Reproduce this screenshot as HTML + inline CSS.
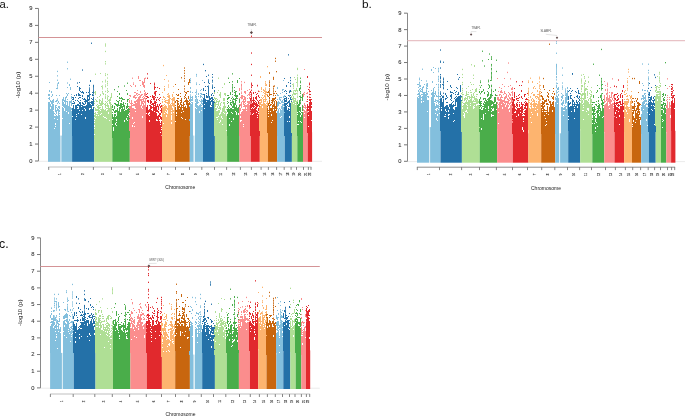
<!DOCTYPE html>
<html><head><meta charset="utf-8"><style>
html,body{margin:0;padding:0;background:#fff;width:685px;height:416px;overflow:hidden}
svg{display:block}
text{font-family:"Liberation Sans",sans-serif}
.tk{font-size:5.8px;fill:#333;stroke:#333;stroke-width:0.08px;text-anchor:end}
.cl{font-size:5.6px;fill:#3a3a3a;stroke:#3a3a3a;stroke-width:0.25px;text-anchor:middle}
.ax{font-size:5px;fill:#1a1a1a}
.ay{font-size:6.2px;fill:#1a1a1a}
.pl{font-size:11.3px;fill:#111}
.an{font-size:2.9px;fill:#555}
</style></head><body>
<svg width="685" height="416" viewBox="0 0 685 416">
<rect width="685" height="416" fill="#fff"/>
<line x1="38.5" y1="161.3" x2="322.0" y2="161.3" stroke="#e6e6e6" stroke-width="0.8"/>
<rect x="60.4" y="135.6" width="1.0" height="26.2" fill="#e2f0f7"/>
<rect x="48.0" y="135.6" width="12.4" height="26.2" fill="#83bfdd"/>
<rect x="61.4" y="135.6" width="10.7" height="26.2" fill="#83bfdd"/>
<rect x="72.1" y="135.6" width="22.2" height="26.2" fill="#2471a8"/>
<rect x="94.3" y="138.1" width="18.0" height="23.7" fill="#afdf95"/>
<rect x="112.3" y="137.3" width="17.5" height="24.5" fill="#4aad4a"/>
<rect x="129.8" y="130.5" width="16.2" height="31.3" fill="#fb8d8d"/>
<rect x="146.0" y="135.6" width="16.0" height="26.2" fill="#e1292d"/>
<rect x="162.0" y="133.9" width="13.0" height="27.9" fill="#fdb46f"/>
<rect x="175.0" y="135.6" width="14.8" height="26.2" fill="#c8660f"/>
<rect x="193.5" y="135.6" width="1.5" height="26.2" fill="#e2f0f7"/>
<rect x="189.8" y="135.6" width="3.7" height="26.2" fill="#83bfdd"/>
<rect x="195.0" y="135.6" width="8.0" height="26.2" fill="#83bfdd"/>
<rect x="203.0" y="130.5" width="11.9" height="31.3" fill="#2471a8"/>
<rect x="214.9" y="135.6" width="12.2" height="26.2" fill="#afdf95"/>
<rect x="227.1" y="135.6" width="12.4" height="26.2" fill="#4aad4a"/>
<rect x="239.5" y="135.6" width="11.3" height="26.2" fill="#fb8d8d"/>
<rect x="250.8" y="135.6" width="9.0" height="26.2" fill="#e1292d"/>
<rect x="259.8" y="130.5" width="8.1" height="31.3" fill="#fdb46f"/>
<rect x="267.9" y="132.2" width="9.2" height="29.6" fill="#c8660f"/>
<rect x="277.1" y="135.6" width="7.7" height="26.2" fill="#83bfdd"/>
<rect x="284.8" y="135.6" width="7.1" height="26.2" fill="#2471a8"/>
<rect x="291.9" y="132.2" width="5.4" height="29.6" fill="#afdf95"/>
<rect x="297.3" y="135.6" width="5.7" height="26.2" fill="#4aad4a"/>
<rect x="303.0" y="135.6" width="4.7" height="26.2" fill="#fb8d8d"/>
<rect x="307.7" y="132.2" width="4.4" height="29.6" fill="#e1292d"/>
<g transform="scale(0.1)" stroke-width="10">
<path stroke="#83bfdd" d="M485 940v20M485 980v10M485 1020v340M495 820v10M495 900v20M495 940v20M495 970v30M495 1020v340M505 1000v20M505 1040v30M505 1090v270M515 910v20M515 960v10M515 1010v30M515 1060v300M525 940v20M525 1000v360M535 990v40M535 1040v60M535 1110v250M545 1130v10M545 1160v20M545 1190v90M545 1290v70M555 1010v10M555 1050v70M555 1140v10M555 1160v70M555 1250v10M555 1270v90M565 880v10M565 950v10M565 1000v20M565 1050v10M565 1070v10M565 1100v40M565 1150v210M575 708v13M575 752v13M575 796v13M575 834v13M575 848v13M575 864v13M575 878v13M575 984v13M575 998v13M575 1028v13M575 1080v30M575 1160v30M575 1200v160M585 820v20M585 1010v20M585 1060v20M585 1090v270M595 950v10M595 1030v10M595 1060v30M595 1100v20M595 1130v10M595 1150v210M625 990v70M625 1070v110M625 1190v170M635 970v40M635 1020v50M635 1080v280M645 1000v20M645 1040v40M645 1110v250M655 970v390M665 930v10M665 960v20M665 1010v10M665 1050v60M665 1120v240M675 616v13M675 681v13M675 824v13M675 870v10M675 940v20M675 990v10M675 1010v350M685 930v10M685 1060v60M685 1140v220M695 840v20M695 1010v220M695 1240v120M705 786v13M705 870v30M705 1010v20M705 1070v290M715 940v10M715 960v30M715 1000v60M715 1080v20M715 1110v250M1895 990v10M1895 1020v20M1895 1060v20M1895 1090v50M1895 1150v210M1905 782v13M1905 800v13M1905 818v13M1905 870v20M1905 872v13M1905 908v13M1905 910v20M1905 944v13M1905 960v60M1905 998v13M1905 1030v330M1915 970v10M1915 990v20M1915 1020v10M1915 1040v320M1925 920v10M1925 960v50M1925 1020v340M1955 920v10M1955 950v30M1955 990v30M1955 1030v40M1955 1080v280M1965 739v13M1965 754v13M1965 824v13M1965 838v13M1965 894v13M1965 908v13M1965 922v13M1965 936v13M1965 960v10M1965 964v13M1965 978v13M1965 992v13M1965 1006v13M1965 1020v13M1965 1020v60M1965 1090v270M1975 990v50M1975 1050v310M1985 930v20M1985 960v10M1985 1020v10M1985 1060v300M1995 840v10M1995 1000v10M1995 1050v60M1995 1130v230M2005 900v10M2005 930v10M2005 950v30M2005 1010v10M2005 1040v320M2015 890v10M2015 930v20M2015 960v10M2015 990v50M2015 1050v10M2015 1070v30M2015 1110v250M2025 800v10M2025 940v10M2025 970v10M2025 1000v20M2025 1030v20M2025 1070v290M2775 870v20M2775 940v20M2775 990v10M2775 1020v50M2775 1080v10M2775 1110v250M2785 950v10M2785 1010v50M2785 1090v270M2795 970v30M2795 1020v20M2795 1080v10M2795 1130v230M2805 930v10M2805 970v10M2805 990v20M2805 1030v10M2805 1090v80M2805 1180v180M2815 970v10M2815 1010v20M2815 1060v30M2815 1100v60M2815 1170v190M2825 890v20M2825 920v10M2825 1000v30M2825 1040v320M2835 800v10M2835 890v10M2835 960v20M2835 990v10M2835 1020v10M2835 1040v20M2835 1070v290M2845 950v20M2845 990v40M2845 1040v320"/>
<path stroke="#2471a8" d="M725 970v10M725 990v10M725 1030v10M725 1080v80M725 1170v190M735 970v30M735 1010v10M735 1030v10M735 1050v310M745 950v10M745 1020v20M745 1090v270M755 970v10M755 1000v10M755 1050v140M755 1200v160M765 940v20M765 1050v90M765 1150v10M765 1170v190M775 824v13M775 860v10M775 1000v10M775 1040v20M775 1070v10M775 1090v270M785 930v30M785 980v10M785 1010v10M785 1040v20M785 1090v40M785 1140v220M795 820v10M795 870v40M795 940v20M795 970v10M795 1020v20M795 1050v50M795 1110v250M805 880v10M805 910v10M805 950v10M805 970v10M805 1000v10M805 1020v340M815 920v10M815 1050v10M815 1070v70M815 1150v210M825 694v13M825 910v20M825 950v20M825 980v10M825 1020v20M825 1050v50M825 1110v250M835 920v20M835 990v10M835 1030v20M835 1060v300M845 980v20M845 1010v10M845 1040v10M845 1060v20M845 1090v270M855 990v50M855 1060v30M855 1110v60M855 1190v170M865 920v10M865 1000v20M865 1050v310M875 950v410M885 920v10M885 950v20M885 990v20M885 1020v340M895 848v13M895 874v13M895 886v13M895 899v13M895 910v10M895 912v13M895 925v13M895 938v13M895 951v13M895 964v13M895 970v10M895 977v13M895 990v13M895 1016v13M895 1030v50M895 1100v260M905 800v20M905 940v10M905 1020v10M905 1040v40M905 1090v270M915 426v13M915 980v10M915 1010v30M915 1050v310M925 920v10M925 940v20M925 990v10M925 1010v50M925 1090v270M935 848v13M935 860v13M935 872v13M935 884v13M935 896v13M935 908v13M935 920v13M935 932v13M935 950v10M935 968v13M935 970v90M935 992v13M935 1016v13M935 1070v290M2035 638v13M2035 880v30M2035 940v10M2035 980v330M2045 820v10M2045 940v100M2045 1050v30M2045 1090v220M2055 700v13M2055 860v10M2055 900v10M2055 990v320M2065 760v10M2065 930v10M2065 950v30M2065 1000v10M2065 1020v290M2075 860v10M2075 960v20M2075 1000v310M2085 746v13M2085 794v13M2085 806v13M2085 819v13M2085 855v13M2085 867v13M2085 879v13M2085 891v13M2085 900v60M2085 915v13M2085 927v13M2085 963v13M2085 999v13M2085 1000v310M2095 830v10M2095 960v350M2105 980v20M2105 1010v40M2105 1070v240M2115 940v20M2115 970v20M2115 1000v20M2115 1050v10M2115 1070v240M2125 740v10M2125 766v13M2125 797v13M2125 813v13M2125 845v13M2125 861v13M2125 870v10M2125 877v13M2125 930v10M2125 970v50M2125 973v13M2125 1005v13M2125 1021v13M2125 1030v280M2135 950v10M2135 990v10M2135 1010v300M2145 870v10M2145 900v20M2145 970v10M2145 1000v30M2145 1040v20M2145 1070v80M2145 1160v150M2845 780v10M2845 910v10M2845 980v40M2845 1030v30M2845 1070v50M2845 1130v230M2855 900v10M2855 960v10M2855 980v10M2855 1000v20M2855 1030v330M2865 850v20M2865 910v10M2865 930v10M2865 970v50M2865 1030v20M2865 1060v300M2875 1020v20M2875 1050v10M2875 1100v110M2875 1220v140M2885 542v13M2885 820v10M2885 950v10M2885 980v10M2885 1010v20M2885 1060v10M2885 1080v280M2895 906v13M2895 918v13M2895 954v13M2895 1000v20M2895 1014v13M2895 1026v13M2895 1030v40M2895 1090v10M2895 1110v50M2895 1180v30M2895 1220v140M2905 771v13M2905 799v13M2905 827v13M2905 855v13M2905 900v20M2905 950v10M2905 970v30M2905 1030v330M2915 970v10M2915 990v10M2915 1010v20M2915 1040v80M2915 1140v220"/>
<path stroke="#afdf95" d="M945 920v10M945 1010v10M945 1030v10M945 1070v10M945 1130v10M945 1150v20M945 1180v20M945 1210v10M945 1230v20M945 1270v10M945 1290v50M945 1350v40M955 736v13M955 910v40M955 990v10M955 1080v30M955 1120v60M955 1190v200M965 1000v20M965 1050v10M965 1090v20M965 1140v10M965 1160v230M975 970v10M975 1010v10M975 1040v10M975 1060v20M975 1090v20M975 1120v10M975 1140v250M985 1050v100M985 1160v230M995 960v10M995 990v50M995 1050v10M995 1070v20M995 1100v290M1005 730v10M1005 940v20M1005 1000v10M1005 1030v30M1005 1070v10M1005 1090v10M1005 1110v30M1005 1150v240M1015 860v10M1015 1010v50M1015 1090v40M1015 1140v250M1025 811v13M1025 854v13M1025 868v13M1025 882v13M1025 910v13M1025 924v13M1025 980v13M1025 990v60M1025 994v13M1025 1022v13M1025 1060v330M1035 930v20M1035 1030v10M1035 1090v70M1035 1170v220M1045 1040v10M1045 1100v70M1045 1180v210M1055 434v13M1055 444v13M1055 454v13M1055 508v13M1055 610v13M1055 632v13M1055 732v13M1055 748v13M1055 796v13M1055 812v13M1055 844v13M1055 860v13M1055 908v13M1055 940v13M1055 956v13M1055 970v20M1055 972v13M1055 1010v10M1055 1030v50M1055 1090v80M1055 1180v210M1065 1020v10M1065 1050v10M1065 1080v10M1065 1110v70M1065 1190v200M1075 739v13M1075 774v13M1075 809v13M1075 827v13M1075 845v13M1075 881v13M1075 899v13M1075 917v13M1075 953v13M1075 971v13M1075 980v10M1075 989v13M1075 1010v10M1075 1030v40M1075 1080v10M1075 1100v290M1085 910v10M1085 960v10M1085 1000v10M1085 1050v70M1085 1140v250M1095 990v50M1095 1080v120M1095 1210v180M1105 970v40M1105 1020v370M1115 930v50M1115 1040v10M1115 1060v330M2145 920v20M2145 970v20M2145 1000v20M2145 1030v330M2155 980v20M2155 1020v50M2155 1080v280M2165 980v10M2165 1000v30M2165 1040v10M2165 1080v20M2165 1110v60M2165 1180v180M2175 920v10M2175 990v10M2175 1010v10M2175 1040v10M2175 1060v20M2175 1110v60M2175 1180v10M2175 1200v160M2185 776v13M2185 900v10M2185 1010v50M2185 1080v10M2185 1100v60M2185 1170v190M2195 940v20M2195 1000v20M2195 1060v30M2195 1100v30M2195 1150v70M2195 1230v130M2205 920v60M2205 1030v30M2205 1070v30M2205 1140v60M2205 1220v140M2215 1020v10M2215 1120v40M2215 1180v180M2225 870v10M2225 1080v100M2225 1190v50M2225 1250v110M2235 980v30M2235 1020v20M2235 1060v60M2235 1130v230M2245 830v20M2245 930v20M2245 980v30M2245 1020v110M2245 1140v220M2255 930v30M2255 1060v20M2255 1110v250M2265 1090v10M2265 1120v10M2265 1160v140M2265 1310v50M2915 910v10M2915 960v20M2915 1000v10M2915 1020v310M2925 840v10M2925 940v20M2925 980v20M2925 1020v310M2935 834v13M2935 848v13M2935 860v10M2935 876v13M2935 904v13M2935 918v13M2935 930v10M2935 932v13M2935 960v13M2935 960v70M2935 974v13M2935 988v13M2935 1002v13M2935 1040v290M2945 770v10M2945 900v10M2945 930v20M2945 980v10M2945 1000v330M2955 790v10M2955 900v20M2955 930v20M2955 980v40M2955 1030v10M2955 1050v280M2965 820v10M2965 880v30M2965 930v10M2965 1010v320M2975 678v13M2975 688v13M2975 746v13M2975 768v13M2975 779v13M2975 790v13M2975 801v13M2975 812v13M2975 823v13M2975 834v13M2975 845v13M2975 856v13M2975 900v13M2975 911v13M2975 933v13M2975 955v13M2975 966v13M2975 999v13M2975 1010v13M2975 1021v13M2975 1032v13"/>
<path stroke="#4aad4a" d="M1125 1050v30M1125 1090v10M1125 1120v10M1125 1140v50M1125 1200v40M1125 1250v130M1135 1090v20M1135 1170v100M1135 1310v70M1145 890v13M1145 1030v10M1145 1060v30M1145 1110v20M1145 1140v240M1155 1030v20M1155 1100v30M1155 1140v20M1155 1170v60M1155 1250v130M1165 1000v10M1165 1040v20M1165 1100v20M1165 1160v30M1165 1210v10M1165 1230v20M1165 1260v120M1175 910v10M1175 960v10M1175 1010v10M1175 1040v30M1175 1080v300M1185 861v13M1185 1010v50M1185 1110v270M1195 930v20M1195 970v20M1195 1000v10M1195 1050v10M1195 1070v310M1205 980v10M1205 1030v60M1205 1120v260M1215 970v20M1215 1000v20M1215 1030v50M1215 1090v290M1225 980v20M1225 1040v10M1225 1060v320M1235 990v10M1235 1020v50M1235 1090v290M1245 854v13M1245 990v10M1245 1050v50M1245 1110v90M1245 1220v160M1255 1030v10M1255 1100v280M1265 900v10M1265 1060v30M1265 1100v80M1265 1200v180M1275 826v13M1275 930v20M1275 990v30M1275 1030v50M1275 1090v70M1275 1170v30M1275 1210v170M1285 990v10M1285 1060v10M1285 1080v60M1285 1150v230M1295 1080v50M1295 1140v10M1295 1160v220M2275 950v10M2275 980v20M2275 1010v10M2275 1030v10M2275 1070v10M2275 1090v30M2275 1140v220M2285 776v13M2285 950v10M2285 970v20M2285 1020v10M2285 1050v20M2285 1080v280M2295 820v10M2295 970v10M2295 1070v10M2295 1090v90M2295 1190v50M2295 1260v100M2305 920v30M2305 1000v10M2305 1020v30M2305 1080v280M2315 980v10M2315 1020v10M2315 1040v20M2315 1080v40M2315 1130v80M2315 1220v140M2325 732v13M2325 811v13M2325 840v13M2325 854v13M2325 868v13M2325 882v13M2325 896v13M2325 910v13M2325 940v10M2325 966v13M2325 994v13M2325 1008v13M2325 1010v10M2325 1022v13M2325 1060v20M2325 1090v40M2325 1140v220M2335 980v20M2335 1010v70M2335 1090v90M2335 1200v160M2345 870v10M2345 900v10M2345 920v10M2345 950v10M2345 990v10M2345 1030v330M2355 910v60M2355 980v70M2355 1070v40M2355 1120v240M2365 910v10M2365 950v40M2365 1000v10M2365 1050v70M2365 1150v210M2375 800v30M2375 950v20M2375 980v10M2375 1080v280M2385 1070v60M2385 1150v210M2395 780v10M2395 930v20M2395 990v40M2395 1040v70M2395 1120v90M2395 1220v140M2975 1020v20M2975 1050v70M2975 1130v10M2975 1150v90M2975 1250v110M2985 1040v170M2985 1220v20M2985 1250v110M2995 880v30M2995 960v10M2995 1000v60M2995 1070v40M2995 1120v240M3005 776v13M3005 806v13M3005 820v13M3005 850v13M3005 866v13M3005 880v13M3005 910v13M3005 926v13M3005 930v10M3005 956v13M3005 970v13M3005 986v13M3005 1000v13M3005 1016v13M3005 1030v10M3005 1030v13M3005 1070v50M3005 1130v20M3005 1170v40M3005 1220v140M3015 970v10M3015 1120v10M3015 1150v70M3015 1230v130M3025 940v70M3025 1050v60M3025 1120v240"/>
<path stroke="#fb8d8d" d="M1295 950v10M1295 980v10M1295 1000v30M1295 1060v30M1295 1100v10M1295 1120v10M1295 1140v10M1295 1160v20M1295 1190v120M1305 850v10M1305 950v20M1305 1030v10M1305 1060v250M1315 860v10M1315 1000v310M1325 776v13M1325 1030v10M1325 1050v10M1325 1080v90M1325 1190v60M1325 1270v40M1335 824v13M1335 840v10M1335 960v20M1335 1040v20M1335 1080v150M1335 1240v70M1345 920v10M1345 950v30M1345 1010v20M1345 1040v20M1345 1090v130M1345 1230v30M1345 1270v40M1355 850v20M1355 920v10M1355 950v10M1355 970v20M1355 1010v70M1355 1090v20M1355 1120v190M1365 930v20M1365 970v10M1365 1000v20M1365 1030v280M1375 900v10M1375 930v10M1375 950v10M1375 990v320M1385 760v30M1385 940v10M1385 970v340M1395 800v10M1395 940v10M1395 960v350M1405 800v10M1405 850v10M1405 910v20M1405 950v30M1405 990v20M1405 1050v260M1415 940v20M1415 990v70M1415 1080v230M1425 810v40M1425 940v10M1425 970v10M1425 990v10M1425 1010v30M1425 1060v20M1425 1090v70M1425 1180v130M1435 820v50M1435 960v10M1435 980v40M1435 1030v280M1445 780v50M1445 850v30M1445 900v20M1445 930v30M1445 970v20M1445 1010v20M1445 1050v260M1455 776v13M1455 920v50M1455 980v330M2395 880v30M2395 980v10M2395 1040v10M2395 1070v290M2405 970v10M2405 1040v20M2405 1080v30M2405 1140v20M2405 1180v20M2405 1220v140M2415 811v13M2415 837v13M2415 850v13M2415 863v13M2415 876v13M2415 889v13M2415 915v13M2415 928v13M2415 950v20M2415 967v13M2415 980v13M2415 1019v13M2415 1030v50M2415 1120v80M2415 1210v150M2425 950v40M2425 1010v10M2425 1090v10M2425 1110v250M2435 960v10M2435 990v60M2435 1060v10M2435 1090v150M2435 1250v10M2435 1270v90M2445 818v13M2445 910v20M2445 960v40M2445 1010v20M2445 1040v30M2445 1090v270M2455 910v30M2455 970v50M2455 1030v10M2455 1050v310M2465 1050v20M2465 1090v10M2465 1110v250M2475 900v10M2475 950v10M2475 980v10M2475 1010v20M2475 1040v320M2485 940v10M2485 1010v350M2495 890v10M2495 920v40M2495 970v20M2495 1010v30M2495 1050v310M2505 940v10M2505 960v10M2505 990v10M2505 1010v180M2505 1200v160M3035 930v40M3035 1060v20M3035 1090v20M3035 1120v240M3045 690v10M3045 919v13M3045 940v10M3045 1030v30M3045 1070v10M3045 1100v30M3045 1140v30M3045 1180v180M3055 1050v40M3055 1110v250M3065 930v10M3065 1010v10M3065 1070v10M3065 1090v270M3075 860v10M3075 920v20M3075 960v20M3075 990v10M3075 1010v10M3075 1050v310"/>
<path stroke="#e1292d" d="M1465 940v10M1465 960v10M1465 980v10M1465 1070v60M1465 1140v220M1475 732v13M1475 776v13M1475 930v10M1475 960v20M1475 1000v20M1475 1050v310M1485 970v10M1485 1000v30M1485 1100v30M1485 1150v210M1495 1050v10M1495 1090v30M1495 1140v10M1495 1160v40M1495 1220v140M1505 830v10M1505 960v10M1505 1000v40M1505 1050v310M1515 990v10M1515 1010v20M1515 1040v10M1515 1060v30M1515 1100v260M1525 950v30M1525 1030v20M1525 1070v10M1525 1110v250M1535 960v40M1535 1030v330M1545 826v13M1545 840v13M1545 856v13M1545 870v13M1545 880v10M1545 886v13M1545 916v13M1545 930v13M1545 960v13M1545 976v13M1545 980v20M1545 1006v13M1545 1020v20M1545 1050v10M1545 1070v40M1545 1120v240M1555 870v10M1555 910v50M1555 970v10M1555 1010v350M1565 910v10M1565 990v20M1565 1020v10M1565 1060v60M1565 1130v60M1565 1210v150M1575 870v10M1575 970v10M1575 1040v30M1575 1100v20M1575 1160v40M1575 1210v150M1585 990v10M1585 1060v40M1585 1110v20M1585 1150v210M1595 880v10M1595 940v10M1595 980v10M1595 1000v10M1595 1040v20M1595 1130v40M1595 1190v10M1595 1210v150M1605 970v10M1605 1030v10M1605 1060v20M1605 1100v10M1605 1130v20M1605 1160v30M1605 1230v10M1605 1250v70M1605 1330v30M1615 1050v20M1615 1080v50M1615 1170v30M1615 1210v60M1615 1280v10M1615 1300v50M2505 910v20M2505 980v30M2505 1040v60M2505 1110v10M2505 1150v210M2515 356v13M2515 524v13M2515 638v13M2515 746v13M2515 826v13M2515 840v13M2515 854v13M2515 868v13M2515 896v13M2515 924v13M2515 938v13M2515 940v10M2515 952v13M2515 966v13M2515 980v13M2515 980v10M2515 994v13M2515 1008v13M2515 1022v13M2515 1040v40M2515 1090v270M2525 850v10M2525 1000v10M2525 1030v40M2525 1080v60M2525 1150v210M2535 920v20M2535 970v110M2535 1090v40M2535 1140v220M2545 1000v10M2545 1020v30M2545 1060v10M2545 1080v280M2555 920v10M2555 970v20M2555 1010v10M2555 1030v30M2555 1070v290M2565 940v10M2565 960v40M2565 1020v70M2565 1100v20M2565 1130v230M2575 848v13M2575 851v13M2575 930v10M2575 1000v10M2575 1040v30M2575 1110v40M2575 1160v10M2575 1180v180M2585 906v13M2585 950v20M2585 1010v30M2585 1050v10M2585 1080v30M2585 1120v10M2585 1140v220M2595 970v10M2595 1000v10M2595 1050v60M2595 1120v240M3075 760v20M3075 960v10M3075 990v10M3075 1010v10M3075 1040v70M3075 1130v200M3085 890v10M3085 1060v20M3085 1090v20M3085 1120v30M3085 1160v100M3085 1270v60M3095 826v13M3095 840v13M3095 868v13M3095 870v10M3095 896v13M3095 910v13M3095 938v13M3095 966v13M3095 990v20M3095 994v13M3095 1020v310M3095 1022v13M3105 910v10M3105 940v10M3105 970v10M3105 990v340M3115 990v10M3115 1020v30M3115 1060v20M3115 1110v90M3115 1210v120"/>
<path stroke="#fdb46f" d="M1625 920v10M1625 990v10M1625 1010v20M1625 1050v290M1635 649v13M1635 960v20M1635 1050v10M1635 1070v160M1635 1240v100M1645 790v10M1645 860v10M1645 880v30M1645 970v10M1645 990v10M1645 1010v10M1645 1040v10M1645 1060v70M1645 1140v200M1655 980v10M1655 1000v30M1655 1050v60M1655 1120v220M1665 750v10M1665 1000v10M1665 1020v10M1665 1060v30M1665 1100v20M1665 1130v20M1665 1170v170M1675 940v10M1675 960v10M1675 1000v10M1675 1020v20M1675 1080v20M1675 1140v200M1685 804v13M1685 844v13M1685 864v13M1685 930v10M1685 944v13M1685 960v20M1685 964v13M1685 990v350M1685 1004v13M1685 1024v13M1695 950v90M1695 1050v290M1705 980v10M1705 1040v300M1715 990v10M1715 1030v10M1715 1050v50M1715 1110v10M1715 1140v10M1715 1200v20M1715 1240v100M1725 940v30M1725 980v80M1725 1080v260M1735 860v10M1735 920v10M1735 970v40M1735 1030v40M1735 1100v20M1735 1130v210M1745 970v370M2595 910v10M2595 1020v40M2595 1070v240M2605 760v20M2605 990v20M2605 1020v30M2605 1060v250M2615 870v30M2615 910v10M2615 970v10M2615 990v40M2615 1040v270M2625 950v10M2625 980v10M2625 1040v20M2625 1080v230M2635 890v20M2635 920v10M2635 970v10M2635 990v320M2645 900v20M2645 930v10M2645 950v20M2645 990v10M2645 1010v10M2645 1030v280M2655 811v13M2655 827v13M2655 843v13M2655 850v10M2655 875v13M2655 891v13M2655 907v13M2655 920v20M2655 923v13M2655 939v13M2655 955v13M2655 960v60M2655 971v13M2655 1040v270M2665 840v20M2665 910v20M2665 940v10M2665 990v10M2665 1030v10M2665 1050v260M2675 660v13M2675 920v10M2675 940v10M2675 960v10M2675 1010v50M2675 1070v240"/>
<path stroke="#c8660f" d="M1755 840v10M1755 1010v20M1755 1050v10M1755 1070v140M1755 1220v140M1765 940v10M1765 1000v10M1765 1100v20M1765 1140v10M1765 1160v200M1775 950v10M1775 980v10M1775 1000v360M1785 890v10M1785 940v20M1785 980v10M1785 1010v10M1785 1030v20M1785 1060v300M1795 1050v30M1795 1090v270M1805 930v10M1805 960v10M1805 1000v10M1805 1020v30M1805 1070v290M1815 771v13M1815 980v50M1815 1040v80M1815 1130v40M1815 1180v180M1825 1050v10M1825 1070v10M1825 1100v80M1825 1190v170M1835 1020v90M1835 1120v240M1845 674v13M1845 700v13M1845 726v13M1845 752v13M1845 778v13M1845 804v13M1845 856v13M1845 882v13M1845 908v13M1845 960v13M1845 980v10M1845 1010v10M1845 1040v10M1845 1070v290M1855 920v10M1855 940v20M1855 970v10M1855 1000v20M1855 1060v130M1855 1200v160M1865 920v20M1865 980v70M1865 1080v280M1875 910v10M1875 1000v360M1885 820v30M1885 910v10M1885 960v30M1885 1010v10M1885 1030v330M1895 790v40M1895 1000v10M1895 1020v30M1895 1070v120M1895 1210v150M2675 920v10M2675 950v10M2675 1060v10M2675 1080v250M2685 910v20M2685 960v10M2685 1030v30M2685 1100v10M2685 1120v10M2685 1140v20M2685 1170v160M2695 724v13M2695 724v13M2695 804v13M2695 819v13M2695 835v13M2695 851v13M2695 860v10M2695 883v13M2695 899v13M2695 915v13M2695 931v13M2695 940v20M2695 947v13M2695 970v20M2695 995v13M2695 1000v10M2695 1011v13M2695 1020v20M2695 1027v13M2695 1050v280M2705 940v10M2705 1040v20M2705 1080v30M2705 1120v210M2715 940v10M2715 1000v10M2715 1020v10M2715 1040v10M2715 1080v60M2715 1160v60M2715 1230v100M2725 980v60M2725 1050v150M2725 1210v120M2735 768v13M2735 776v13M2735 786v13M2735 858v13M2735 876v13M2735 894v13M2735 912v13M2735 930v13M2735 948v13M2735 980v30M2735 1002v13M2735 1040v30M2735 1080v10M2735 1110v220M2745 854v13M2745 930v10M2745 980v20M2745 1010v320M2755 578v13M2755 606v13M2755 910v10M2755 950v10M2755 970v20M2755 1000v10M2755 1060v30M2755 1100v230M2765 710v13M2765 930v10M2765 1010v100M2765 1130v200"/>
</g>
<line x1="38.5" y1="8.45" x2="38.5" y2="161.00" stroke="#8a8a8a" stroke-width="1"/>
<line x1="35.0" y1="161.00" x2="38.5" y2="161.00" stroke="#777" stroke-width="1"/>
<line x1="35.0" y1="144.05" x2="38.5" y2="144.05" stroke="#777" stroke-width="1"/>
<line x1="35.0" y1="127.10" x2="38.5" y2="127.10" stroke="#777" stroke-width="1"/>
<line x1="35.0" y1="110.15" x2="38.5" y2="110.15" stroke="#777" stroke-width="1"/>
<line x1="35.0" y1="93.20" x2="38.5" y2="93.20" stroke="#777" stroke-width="1"/>
<line x1="35.0" y1="76.25" x2="38.5" y2="76.25" stroke="#777" stroke-width="1"/>
<line x1="35.0" y1="59.30" x2="38.5" y2="59.30" stroke="#777" stroke-width="1"/>
<line x1="35.0" y1="42.35" x2="38.5" y2="42.35" stroke="#777" stroke-width="1"/>
<line x1="35.0" y1="25.40" x2="38.5" y2="25.40" stroke="#777" stroke-width="1"/>
<line x1="35.0" y1="8.45" x2="38.5" y2="8.45" stroke="#777" stroke-width="1"/>
<line x1="38.5" y1="37.50" x2="322.0" y2="37.50" stroke="#d49396" stroke-width="1.1"/>
<line x1="48.300000000000004" y1="167.0" x2="311.4" y2="167.0" stroke="#d4d4d4" stroke-width="1.5"/>
<line x1="48.7" y1="167.0" x2="48.7" y2="169.9" stroke="#666" stroke-width="0.8"/>
<line x1="71.5" y1="167.0" x2="71.5" y2="169.9" stroke="#666" stroke-width="0.8"/>
<line x1="93.4" y1="167.0" x2="93.4" y2="169.9" stroke="#666" stroke-width="0.8"/>
<line x1="111.5" y1="167.0" x2="111.5" y2="169.9" stroke="#666" stroke-width="0.8"/>
<line x1="129.3" y1="167.0" x2="129.3" y2="169.9" stroke="#666" stroke-width="0.8"/>
<line x1="145.5" y1="167.0" x2="145.5" y2="169.9" stroke="#666" stroke-width="0.8"/>
<line x1="161.5" y1="167.0" x2="161.5" y2="169.9" stroke="#666" stroke-width="0.8"/>
<line x1="175.5" y1="167.0" x2="175.5" y2="169.9" stroke="#666" stroke-width="0.8"/>
<line x1="189.5" y1="167.0" x2="189.5" y2="169.9" stroke="#666" stroke-width="0.8"/>
<line x1="201.8" y1="167.0" x2="201.8" y2="169.9" stroke="#666" stroke-width="0.8"/>
<line x1="214.5" y1="167.0" x2="214.5" y2="169.9" stroke="#666" stroke-width="0.8"/>
<line x1="226.6" y1="167.0" x2="226.6" y2="169.9" stroke="#666" stroke-width="0.8"/>
<line x1="240.4" y1="167.0" x2="240.4" y2="169.9" stroke="#666" stroke-width="0.8"/>
<line x1="251.4" y1="167.0" x2="251.4" y2="169.9" stroke="#666" stroke-width="0.8"/>
<line x1="261.1" y1="167.0" x2="261.1" y2="169.9" stroke="#666" stroke-width="0.8"/>
<line x1="268.4" y1="167.0" x2="268.4" y2="169.9" stroke="#666" stroke-width="0.8"/>
<line x1="276.6" y1="167.0" x2="276.6" y2="169.9" stroke="#666" stroke-width="0.8"/>
<line x1="284.2" y1="167.0" x2="284.2" y2="169.9" stroke="#666" stroke-width="0.8"/>
<line x1="291.1" y1="167.0" x2="291.1" y2="169.9" stroke="#666" stroke-width="0.8"/>
<line x1="296.5" y1="167.0" x2="296.5" y2="169.9" stroke="#666" stroke-width="0.8"/>
<line x1="303.5" y1="167.0" x2="303.5" y2="169.9" stroke="#666" stroke-width="0.8"/>
<line x1="308.4" y1="167.0" x2="308.4" y2="169.9" stroke="#666" stroke-width="0.8"/>
<line x1="311.0" y1="167.0" x2="311.0" y2="169.9" stroke="#666" stroke-width="0.8"/>
<polyline points="251.4,28.9 251.4,31.3" fill="none" stroke="#bbb" stroke-width="0.4"/>
<rect x="250.30" y="31.50" width="2.2" height="2.2" fill="#5e4848" transform="rotate(45 251.4 32.6)"/>
<g style="filter:grayscale(1)"><text x="32.6" y="162.90" class="tk">0</text>
<text x="32.6" y="145.95" class="tk">1</text>
<text x="32.6" y="129.00" class="tk">2</text>
<text x="32.6" y="112.05" class="tk">3</text>
<text x="32.6" y="95.10" class="tk">4</text>
<text x="32.6" y="78.15" class="tk">5</text>
<text x="32.6" y="61.20" class="tk">6</text>
<text x="32.6" y="44.25" class="tk">7</text>
<text x="32.6" y="27.30" class="tk">8</text>
<text x="32.6" y="10.35" class="tk">9</text>
<text transform="translate(61.2,174.3) rotate(-90) scale(0.5)" class="cl">1</text>
<text transform="translate(83.5,174.3) rotate(-90) scale(0.5)" class="cl">2</text>
<text transform="translate(103.5,174.3) rotate(-90) scale(0.5)" class="cl">3</text>
<text transform="translate(121.5,174.3) rotate(-90) scale(0.5)" class="cl">4</text>
<text transform="translate(138.5,174.3) rotate(-90) scale(0.5)" class="cl">5</text>
<text transform="translate(154.6,174.3) rotate(-90) scale(0.5)" class="cl">6</text>
<text transform="translate(169.6,174.3) rotate(-90) scale(0.5)" class="cl">7</text>
<text transform="translate(183.6,174.3) rotate(-90) scale(0.5)" class="cl">8</text>
<text transform="translate(196.8,174.3) rotate(-90) scale(0.5)" class="cl">9</text>
<text transform="translate(209.2,174.3) rotate(-90) scale(0.5)" class="cl">10</text>
<text transform="translate(221.7,174.3) rotate(-90) scale(0.5)" class="cl">11</text>
<text transform="translate(234.6,174.3) rotate(-90) scale(0.5)" class="cl">12</text>
<text transform="translate(247.0,174.3) rotate(-90) scale(0.5)" class="cl">13</text>
<text transform="translate(257.4,174.3) rotate(-90) scale(0.5)" class="cl">14</text>
<text transform="translate(265.9,174.3) rotate(-90) scale(0.5)" class="cl">15</text>
<text transform="translate(273.6,174.3) rotate(-90) scale(0.5)" class="cl">16</text>
<text transform="translate(281.5,174.3) rotate(-90) scale(0.5)" class="cl">17</text>
<text transform="translate(288.8,174.3) rotate(-90) scale(0.5)" class="cl">18</text>
<text transform="translate(294.9,174.3) rotate(-90) scale(0.5)" class="cl">19</text>
<text transform="translate(301.1,174.3) rotate(-90) scale(0.5)" class="cl">20</text>
<text transform="translate(307.1,174.3) rotate(-90) scale(0.5)" class="cl">21</text>
<text transform="translate(310.8,174.3) rotate(-90) scale(0.5)" class="cl">22</text>
<text x="252.1" y="26.1" class="an" text-anchor="middle">TRAF1</text>
<text x="180.3" y="189.20000000000002" class="ax" text-anchor="middle">Chromosome</text>
<text transform="translate(20.0,85.0) rotate(-90)" class="ay" text-anchor="middle">-log10 (p)</text>
<text x="-0.6" y="7.8" class="pl" style="font-size:11.3px">a.</text></g>
<line x1="407.5" y1="161.6" x2="685.0" y2="161.6" stroke="#e6e6e6" stroke-width="0.8"/>
<rect x="429.1" y="127.1" width="1.0" height="35.6" fill="#e2f0f7"/>
<rect x="417.0" y="127.1" width="12.1" height="35.6" fill="#83bfdd"/>
<rect x="430.1" y="127.1" width="10.4" height="35.6" fill="#83bfdd"/>
<rect x="440.5" y="130.8" width="21.4" height="31.9" fill="#2471a8"/>
<rect x="461.9" y="131.7" width="17.8" height="31.0" fill="#afdf95"/>
<rect x="479.7" y="131.7" width="17.4" height="31.0" fill="#4aad4a"/>
<rect x="497.1" y="128.4" width="15.7" height="34.3" fill="#fb8d8d"/>
<rect x="512.8" y="133.3" width="15.6" height="29.4" fill="#e1292d"/>
<rect x="528.4" y="129.2" width="12.8" height="33.5" fill="#fdb46f"/>
<rect x="541.2" y="133.3" width="14.1" height="29.4" fill="#c8660f"/>
<rect x="559.0" y="133.3" width="1.1" height="29.4" fill="#e2f0f7"/>
<rect x="555.3" y="133.3" width="3.7" height="29.4" fill="#83bfdd"/>
<rect x="560.1" y="133.3" width="8.1" height="29.4" fill="#83bfdd"/>
<rect x="568.2" y="130.8" width="12.0" height="31.9" fill="#2471a8"/>
<rect x="580.2" y="128.4" width="12.1" height="34.3" fill="#afdf95"/>
<rect x="592.3" y="133.3" width="12.0" height="29.4" fill="#4aad4a"/>
<rect x="604.3" y="131.7" width="10.2" height="31.0" fill="#fb8d8d"/>
<rect x="614.5" y="131.7" width="9.6" height="31.0" fill="#e1292d"/>
<rect x="624.1" y="131.7" width="7.9" height="31.0" fill="#fdb46f"/>
<rect x="632.0" y="133.3" width="9.2" height="29.4" fill="#c8660f"/>
<rect x="641.2" y="133.3" width="7.7" height="29.4" fill="#83bfdd"/>
<rect x="648.9" y="131.7" width="6.8" height="31.0" fill="#2471a8"/>
<rect x="655.7" y="125.1" width="5.3" height="37.6" fill="#afdf95"/>
<rect x="661.0" y="133.3" width="5.3" height="29.4" fill="#4aad4a"/>
<rect x="666.3" y="131.7" width="4.8" height="31.0" fill="#fb8d8d"/>
<rect x="671.1" y="130.8" width="4.3" height="31.9" fill="#e1292d"/>
<g transform="scale(0.1)" stroke-width="10">
<path stroke="#83bfdd" d="M4175 840v10M4175 940v10M4175 970v310M4185 840v10M4185 870v10M4185 900v20M4185 930v20M4185 960v10M4185 980v300M4195 776v13M4195 790v13M4195 818v13M4195 832v13M4195 846v13M4195 860v10M4195 888v13M4195 916v13M4195 930v13M4195 930v350M4195 944v13M4195 972v13M4195 1000v13M4205 850v20M4205 880v10M4205 900v20M4205 950v330M4215 800v10M4215 890v10M4215 910v10M4215 940v10M4215 970v10M4215 1000v10M4215 1030v250M4225 686v13M4225 870v60M4225 940v10M4225 960v320M4235 860v20M4235 920v90M4235 1020v260M4245 840v10M4245 920v360M4255 920v10M4255 940v340M4265 804v13M4265 835v13M4265 850v10M4265 851v13M4265 867v13M4265 880v10M4265 883v13M4265 899v13M4265 900v60M4265 931v13M4265 963v13M4265 970v310M4265 1011v13M4265 1027v13M4275 830v40M4275 880v10M4275 930v20M4275 960v10M4275 1000v110M4275 1120v160M4285 910v10M4285 960v20M4285 1000v280M4315 690v20M4315 900v10M4315 930v20M4315 970v310M4325 810v20M4325 920v360M4335 670v10M4335 720v10M4335 880v400M4345 870v10M4345 930v10M4345 950v20M4345 1010v10M4345 1030v250M4355 680v10M4355 910v40M4355 990v30M4355 1060v30M4355 1100v30M4355 1140v140M4365 840v10M4365 950v20M4365 1000v10M4365 1020v10M4365 1040v40M4365 1110v70M4365 1200v80M4375 960v10M4375 1000v20M4375 1050v30M4375 1090v50M4375 1160v40M4375 1210v70M4385 678v13M4385 694v13M4385 710v13M4385 758v13M4385 774v13M4385 790v13M4385 806v13M4385 838v13M4385 854v13M4385 870v13M4385 886v13M4385 902v13M4385 918v13M4385 920v20M4385 934v13M4385 950v13M4385 960v10M4385 966v13M4385 982v13M4385 1000v30M4385 1030v13M4385 1050v40M4385 1100v180M4395 960v10M4395 990v10M4395 1010v20M4395 1040v10M4395 1060v10M4395 1080v50M4395 1140v140M4405 980v30M4405 1060v70M4405 1140v140M5555 970v30M5555 1020v320M5565 408v13M5565 426v13M5565 526v13M5565 638v13M5565 649v13M5565 660v13M5565 671v13M5565 682v13M5565 693v13M5565 704v13M5565 715v13M5565 726v13M5565 737v13M5565 759v13M5565 770v13M5565 792v13M5565 825v13M5565 847v13M5565 858v13M5565 869v13M5565 902v13M5565 913v13M5565 924v13M5565 946v13M5565 957v13M5565 960v10M5565 979v13M5565 990v350M5565 1001v13M5565 1012v13M5565 1023v13M5575 830v10M5575 880v20M5575 920v10M5575 960v70M5575 1040v300M5585 870v30M5585 910v10M5585 940v20M5585 980v360M5615 930v10M5615 960v20M5615 990v20M5615 1030v20M5615 1070v270M5625 674v13M5625 746v13M5625 824v13M5625 854v13M5625 868v13M5625 884v13M5625 944v13M5625 958v13M5625 970v20M5625 974v13M5625 1018v13M5625 1020v40M5625 1034v13M5625 1070v270M5635 950v10M5635 1000v40M5635 1080v20M5635 1110v40M5635 1160v180M5645 1050v10M5645 1070v30M5645 1110v230M5655 884v13M5655 896v13M5655 909v13M5655 922v13M5655 935v13M5655 950v10M5655 970v60M5655 974v13M5655 987v13M5655 1000v13M5655 1013v13M5655 1026v13M5655 1060v280M5665 930v100M5665 1060v10M5665 1090v250M5675 870v20M5675 900v100M5675 1020v320M6415 980v20M6415 1050v10M6415 1070v40M6415 1140v200M6425 634v13M6425 830v10M6425 890v20M6425 950v20M6425 980v10M6425 1020v320M6435 850v10M6435 950v50M6435 1010v80M6435 1100v240M6445 900v10M6445 930v20M6445 970v20M6445 1000v40M6445 1050v290M6455 900v10M6455 930v10M6455 950v70M6455 1040v300M6465 1000v20M6465 1030v20M6465 1070v120M6465 1210v130M6475 900v20M6475 1040v10M6475 1070v50M6475 1130v120M6475 1260v80M6485 636v13M6485 698v13M6485 722v13M6485 764v13M6485 778v13M6485 792v13M6485 820v13M6485 834v13M6485 848v13M6485 876v13M6485 918v13M6485 932v13M6485 946v13M6485 960v13M6485 974v13M6485 988v13M6485 990v20M6485 1002v13M6485 1016v13M6485 1020v10M6485 1030v13M6485 1050v290"/>
<path stroke="#2471a8" d="M4405 494v13M4405 606v13M4405 616v13M4405 674v13M4405 740v13M4405 762v13M4405 768v13M4405 780v13M4405 804v13M4405 816v13M4405 841v13M4405 853v13M4405 865v13M4405 913v13M4405 925v13M4405 930v20M4405 937v13M4405 961v13M4405 985v13M4405 990v320M4405 997v13M4405 1009v13M4405 1033v13M4415 950v10M4415 980v90M4415 1080v10M4415 1110v200M4425 840v10M4425 960v20M4425 1020v290M4435 616v13M4435 776v13M4435 790v13M4435 806v13M4435 820v13M4435 836v13M4435 850v13M4435 866v13M4435 880v10M4435 880v13M4435 926v13M4435 956v13M4435 960v20M4435 986v13M4435 990v320M4435 1000v13M4435 1016v13M4445 1070v90M4445 1170v140M4455 930v20M4455 980v20M4455 1060v30M4455 1110v30M4455 1150v10M4455 1170v140M4465 950v20M4465 980v10M4465 1020v10M4465 1050v60M4465 1120v190M4475 810v10M4475 890v10M4475 970v10M4475 1020v10M4475 1050v260M4485 1070v30M4485 1120v20M4485 1160v10M4485 1190v120M4495 1040v30M4495 1090v50M4495 1150v160M4505 850v20M4505 910v20M4505 950v20M4505 990v10M4505 1040v270M4515 870v10M4515 920v10M4515 940v50M4515 1000v10M4515 1030v280M4525 920v10M4525 1020v10M4525 1050v260M4535 930v10M4535 1010v10M4535 1040v30M4535 1090v40M4535 1140v70M4535 1220v90M4545 900v10M4545 980v10M4545 1050v10M4545 1100v100M4545 1210v100M4555 920v10M4555 940v10M4555 970v10M4555 990v70M4555 1070v240M4565 870v10M4565 910v10M4565 960v10M4565 980v40M4565 1070v240M4575 740v10M4575 880v10M4575 940v10M4575 970v340M4585 786v13M4585 920v30M4585 960v350M4595 770v10M4595 960v350M4605 850v70M4605 950v360M4615 960v20M4615 1000v10M4615 1040v20M4615 1070v10M4615 1100v210M5685 910v10M5685 960v40M5685 1010v150M5685 1170v20M5685 1200v110M5695 900v10M5695 1030v20M5695 1070v240M5705 880v10M5705 930v10M5705 950v40M5705 1020v20M5705 1060v250M5715 910v10M5715 950v10M5715 980v10M5715 1060v50M5715 1120v190M5725 730v10M5725 736v13M5725 900v10M5725 990v320M5735 1000v20M5735 1040v10M5735 1060v250M5745 970v10M5745 1020v50M5745 1080v10M5745 1120v60M5745 1190v120M5755 910v10M5755 1040v10M5755 1060v250M5765 920v10M5765 960v10M5765 1000v30M5765 1040v270M5775 880v10M5775 950v30M5775 1020v40M5775 1080v230M5785 900v40M5785 980v10M5785 1010v10M5785 1040v270M5795 930v10M5795 960v20M5795 990v20M5795 1020v290M6485 880v10M6485 940v10M6485 970v10M6485 1010v10M6485 1030v40M6485 1080v240M6495 830v10M6495 920v40M6495 970v10M6495 990v20M6495 1020v120M6495 1150v170M6505 900v10M6505 970v350M6515 870v10M6515 960v40M6515 1020v30M6515 1060v30M6515 1100v220M6525 1000v10M6525 1030v70M6525 1110v210M6535 970v20M6535 1000v50M6535 1060v260M6545 742v13M6545 960v10M6545 990v20M6545 1030v30M6545 1070v10M6545 1090v150M6545 1250v70M6555 768v13M6555 850v10M6555 970v10M6555 1010v20M6555 1050v10M6555 1100v70M6555 1180v140"/>
<path stroke="#afdf95" d="M4615 930v10M4615 970v10M4615 1010v310M4625 688v13M4625 739v13M4625 770v10M4625 819v13M4625 839v13M4625 879v13M4625 899v13M4625 919v13M4625 939v13M4625 959v13M4625 970v40M4625 979v13M4625 999v13M4625 1020v10M4625 1060v10M4625 1090v230M4635 940v10M4635 1030v10M4635 1050v70M4635 1130v20M4635 1160v160M4645 980v30M4645 1030v100M4645 1180v140M4655 950v10M4655 970v30M4655 1020v90M4655 1120v200M4665 880v10M4665 910v50M4665 980v10M4665 1000v40M4665 1050v50M4665 1120v200M4675 940v10M4675 960v40M4675 1020v30M4675 1060v10M4675 1090v30M4675 1130v190M4685 860v10M4685 920v10M4685 940v10M4685 960v10M4685 1000v320M4695 960v30M4695 1000v320M4705 820v10M4705 900v10M4705 920v10M4705 970v10M4705 990v40M4705 1040v10M4705 1060v260M4715 641v13M4715 840v10M4715 920v10M4715 940v380M4725 890v10M4725 960v20M4725 1010v310M4735 746v13M4735 780v10M4735 840v10M4735 930v30M4735 970v10M4735 1000v20M4735 1030v30M4735 1090v230M4745 650v20M4745 920v10M4745 960v40M4745 1010v10M4745 1030v20M4745 1060v10M4745 1080v240M4755 890v30M4755 980v40M4755 1030v290M4765 880v40M4765 940v10M4765 960v10M4765 980v60M4765 1060v260M4775 940v10M4775 990v50M4775 1050v270M4785 1010v20M4785 1050v270M4795 850v10M4795 890v10M4795 1060v260M5805 930v20M5805 980v10M5805 1000v10M5805 1030v260M5815 746v13M5815 785v13M5815 798v13M5815 811v13M5815 824v13M5815 850v13M5815 863v13M5815 880v10M5815 889v13M5815 910v10M5815 941v13M5815 950v10M5815 954v13M5815 967v13M5815 970v20M5815 980v13M5815 993v13M5815 1006v13M5815 1019v13M5815 1030v260M5825 850v20M5825 930v30M5825 980v10M5825 1000v30M5825 1040v60M5825 1110v180M5835 740v10M5835 930v20M5835 980v20M5835 1030v20M5835 1060v10M5835 1080v20M5835 1110v80M5835 1200v90M5845 760v13M5845 776v13M5845 824v13M5845 830v10M5845 840v13M5845 856v13M5845 872v13M5845 888v13M5845 900v20M5845 904v13M5845 920v13M5845 930v60M5845 984v13M5845 1000v13M5845 1010v280M5845 1016v13M5855 800v20M5855 830v10M5855 880v30M5855 930v60M5855 1000v290M5865 880v20M5865 1000v110M5865 1120v170M5875 860v10M5875 890v10M5875 910v50M5875 970v10M5875 1010v70M5875 1100v190M5885 766v13M5885 810v20M5885 990v20M5885 1020v60M5885 1110v30M5885 1150v140M5895 930v10M5895 980v10M5895 1040v250M5905 900v10M5905 940v10M5905 960v330M5915 870v10M5915 910v20M5915 940v30M5915 990v40M5915 1040v250M6555 870v10M6555 900v20M6555 960v300M6565 860v50M6565 920v10M6565 940v320M6575 760v10M6575 860v10M6575 910v20M6575 940v50M6575 1010v250M6585 870v10M6585 910v20M6585 940v10M6585 960v300M6595 718v13M6595 734v13M6595 765v13M6595 781v13M6595 797v13M6595 813v13M6595 850v10M6595 870v10M6595 890v10M6595 909v13M6595 925v13M6595 941v13M6595 960v300M6595 1005v13M6595 1021v13M6605 830v10M6605 850v20M6605 910v350"/>
<path stroke="#4aad4a" d="M4795 910v20M4795 990v50M4795 1050v10M4795 1070v10M4795 1090v180M4795 1280v40M4805 804v13M4805 819v13M4805 867v13M4805 931v13M4805 970v20M4805 979v13M4805 1011v13M4805 1020v50M4805 1027v13M4805 1090v230M4815 850v10M4815 910v20M4815 1010v10M4815 1030v10M4815 1050v10M4815 1070v20M4815 1100v80M4815 1190v90M4815 1300v20M4825 506v13M4825 602v13M4825 910v10M4825 1060v10M4825 1100v220M4835 890v20M4835 980v20M4835 1030v20M4835 1060v10M4835 1080v60M4835 1200v120M4845 654v13M4845 920v20M4845 980v10M4845 1010v20M4845 1040v280M4855 980v30M4855 1020v60M4855 1090v40M4855 1140v180M4865 1000v320M4875 910v10M4875 940v30M4875 990v10M4875 1010v310M4885 590v10M4885 796v13M4885 811v13M4885 841v13M4885 880v10M4885 920v30M4885 931v13M4885 946v13M4885 980v10M4885 991v13M4885 1000v20M4885 1006v13M4885 1021v13M4885 1030v30M4885 1090v10M4885 1110v210M4895 534v13M4895 850v30M4895 970v350M4905 800v10M4905 940v50M4905 1000v320M4915 562v13M4915 574v13M4915 587v13M4915 639v13M4915 652v13M4915 678v13M4915 691v13M4915 717v13M4915 730v13M4915 743v13M4915 756v13M4915 769v13M4915 782v13M4915 795v13M4915 847v13M4915 860v13M4915 886v13M4915 899v13M4915 912v13M4915 925v13M4915 938v13M4915 951v13M4915 964v13M4915 1003v13M4915 1010v20M4915 1016v13M4915 1029v13M4915 1040v10M4915 1060v20M4915 1090v20M4915 1120v20M4915 1170v150M4925 950v10M4925 1010v30M4925 1060v30M4925 1110v40M4925 1160v160M4935 910v10M4935 1020v60M4935 1110v40M4935 1160v160M4945 970v60M4945 1040v280M4955 890v20M4955 940v20M4955 970v50M4955 1040v280M4965 596v13M4965 708v13M4965 950v10M4965 1020v70M4965 1100v220M5925 1020v10M5925 1040v10M5925 1070v40M5925 1130v20M5925 1180v10M5925 1200v30M5925 1240v100M5935 636v13M5935 950v30M5935 1020v10M5935 1070v10M5935 1090v250M5945 1020v10M5945 1060v60M5945 1130v20M5945 1160v70M5945 1240v100M5955 1040v10M5955 1090v10M5955 1130v10M5955 1150v10M5955 1180v10M5955 1220v50M5955 1290v20M5955 1320v20M5965 920v10M5965 1010v10M5965 1040v20M5965 1110v20M5965 1180v40M5965 1230v110M5975 850v10M5975 900v20M5975 1060v10M5975 1080v10M5975 1100v160M5975 1270v70M5985 970v10M5985 1000v20M5985 1030v10M5985 1050v80M5985 1140v200M5995 746v13M5995 880v10M5995 1040v50M5995 1100v10M5995 1130v10M5995 1160v180M6005 950v30M6005 1080v260M6015 488v13M6015 779v13M6015 794v13M6015 808v13M6015 822v13M6015 836v13M6015 850v13M6015 864v13M6015 878v13M6015 892v13M6015 934v13M6015 948v13M6015 962v13M6015 976v13M6015 980v30M6015 1030v20M6015 1032v13M6015 1110v230M6025 840v10M6025 880v10M6025 930v10M6025 1000v170M6025 1180v160M6035 990v10M6035 1020v20M6035 1050v10M6035 1080v80M6035 1170v170M6615 1010v10M6615 1040v20M6615 1070v20M6615 1100v50M6615 1160v180M6625 940v10M6625 960v10M6625 1040v50M6625 1100v90M6625 1200v10M6625 1220v50M6625 1280v60M6635 930v30M6635 980v30M6635 1020v30M6635 1080v20M6635 1130v70M6635 1210v130M6645 970v10M6645 990v20M6645 1030v10M6645 1050v290M6655 620v13M6655 850v10M6655 940v20M6655 1030v30M6655 1080v50M6655 1140v200"/>
<path stroke="#fb8d8d" d="M4975 780v10M4975 950v10M4975 970v30M4975 1020v20M4975 1050v240M4985 910v10M4985 970v40M4985 1040v10M4985 1080v40M4985 1130v100M4985 1240v50M4995 870v10M4995 940v20M4995 990v20M4995 1020v270M5005 910v20M5005 940v10M5005 970v320M5015 880v10M5015 900v30M5015 950v30M5015 990v50M5015 1050v240M5025 840v10M5025 920v10M5025 970v10M5025 1000v70M5025 1090v200M5035 940v10M5035 1000v20M5035 1030v260M5045 780v10M5045 860v10M5045 910v30M5045 970v60M5045 1040v250M5055 930v10M5055 960v30M5055 1010v40M5055 1070v220M5065 940v40M5065 1010v20M5065 1050v240M5075 718v13M5075 980v20M5075 1010v280M5085 624v13M5085 860v10M5085 920v10M5085 950v20M5085 990v50M5085 1050v20M5085 1090v200M5095 930v20M5095 970v20M5095 1000v10M5095 1030v20M5095 1080v20M5095 1120v170M5105 782v13M5105 850v10M5105 940v20M5105 980v20M5105 1020v20M5105 1050v240M5115 880v20M5115 920v10M5115 970v60M5115 1040v250M5125 870v30M5125 910v50M5125 990v300M6045 810v10M6045 950v80M6045 1050v270M6055 850v10M6055 890v20M6055 1010v10M6055 1040v280M6065 930v20M6065 970v40M6065 1030v290M6075 826v13M6075 840v13M6075 856v13M6075 886v13M6075 900v13M6075 916v13M6075 930v13M6075 946v13M6075 960v13M6075 970v10M6075 976v13M6075 990v10M6075 990v13M6075 1006v13M6075 1020v300M6075 1020v13M6085 980v40M6085 1060v260M6095 920v10M6095 950v90M6095 1050v30M6095 1090v230M6105 870v10M6105 970v10M6105 990v330M6115 920v60M6115 1000v20M6115 1040v280M6125 782v13M6125 920v20M6125 980v20M6125 1030v290M6135 950v30M6135 1000v10M6135 1030v20M6135 1060v10M6135 1080v240M6145 850v10M6145 960v60M6145 1030v10M6145 1050v270M6665 1000v10M6665 1050v30M6665 1090v230M6675 782v13M6675 880v10M6675 950v10M6675 970v10M6675 990v10M6675 1010v310M6685 1080v240M6695 860v10M6695 970v10M6695 990v10M6695 1020v300M6705 1050v20M6705 1080v70M6705 1180v140"/>
<path stroke="#e1292d" d="M5125 970v30M5125 1020v40M5125 1080v60M5125 1150v40M5125 1200v10M5125 1230v110M5135 990v350M5145 880v10M5145 920v60M5145 990v20M5145 1040v80M5145 1130v210M5155 1060v10M5155 1090v20M5155 1130v210M5165 811v13M5165 960v10M5165 980v20M5165 1030v30M5165 1070v10M5165 1100v60M5165 1170v170M5175 980v10M5175 1000v10M5175 1020v10M5175 1040v30M5175 1080v260M5185 950v10M5185 980v10M5185 1000v10M5185 1080v60M5185 1160v180M5195 850v10M5195 940v10M5195 970v10M5195 1020v10M5195 1040v30M5195 1080v260M5205 1070v20M5205 1100v20M5205 1130v210M5215 850v10M5215 900v20M5215 960v20M5215 1020v30M5215 1060v280M5225 811v13M5225 980v10M5225 1040v90M5225 1140v10M5225 1160v110M5225 1300v40M5235 1040v10M5235 1090v10M5235 1130v10M5235 1160v20M5235 1200v10M5235 1220v80M5235 1320v20M5245 940v30M5245 1020v10M5245 1050v10M5245 1070v20M5245 1110v10M5245 1130v20M5245 1160v180M5255 940v10M5255 990v10M5255 1010v10M5255 1030v60M5255 1100v240M5265 980v20M5265 1020v40M5265 1080v260M5275 930v10M5275 990v10M5275 1030v310M6145 860v10M6145 940v20M6145 980v10M6145 1020v140M6145 1170v150M6155 940v10M6155 980v20M6155 1030v10M6155 1050v70M6155 1140v180M6165 861v13M6165 940v10M6165 1000v10M6165 1020v30M6165 1070v30M6165 1110v60M6165 1180v140M6175 930v10M6175 960v20M6175 990v20M6175 1020v20M6175 1050v10M6175 1070v250M6185 794v13M6185 950v10M6185 980v20M6185 1020v10M6185 1040v30M6185 1080v30M6185 1120v200M6195 1010v20M6195 1050v10M6195 1090v60M6195 1170v70M6195 1250v70M6205 940v40M6205 1010v40M6205 1060v260M6215 930v10M6215 1040v10M6215 1060v260M6225 900v20M6225 950v30M6225 990v330M6235 850v30M6235 1030v10M6235 1060v40M6235 1120v200M6715 840v10M6715 860v10M6715 880v20M6715 910v10M6715 930v30M6715 970v10M6715 1010v300M6725 840v13M6725 869v13M6725 883v13M6725 911v13M6725 925v13M6725 953v13M6725 967v13M6725 981v13M6725 1000v10M6725 1009v13M6725 1020v290M6725 1023v13M6735 900v10M6735 950v30M6735 1030v280M6745 950v10M6745 980v100M6745 1090v220"/>
<path stroke="#fdb46f" d="M5285 804v13M5285 818v13M5285 878v13M5285 894v13M5285 910v50M5285 970v10M5285 990v310M5285 998v13M5285 1014v13M5295 1000v10M5295 1020v10M5295 1080v220M5305 776v13M5305 960v20M5305 1030v20M5305 1060v10M5305 1090v80M5305 1180v120M5315 930v10M5315 990v20M5315 1020v100M5315 1130v90M5315 1230v70M5325 810v20M5325 920v10M5325 980v10M5325 1010v10M5325 1040v10M5325 1080v60M5325 1150v150M5335 870v20M5335 940v20M5335 990v30M5335 1030v40M5335 1080v220M5345 860v10M5345 940v20M5345 1000v300M5355 880v10M5355 960v20M5355 1030v40M5355 1080v20M5355 1110v190M5365 960v10M5365 980v10M5365 1010v10M5365 1030v20M5365 1060v240M5375 830v10M5375 900v20M5375 940v10M5375 960v20M5375 1040v50M5375 1100v30M5375 1160v140M5385 940v10M5385 970v30M5385 1010v290M5395 766v13M5395 781v13M5395 813v13M5395 845v13M5395 861v13M5395 877v13M5395 909v13M5395 910v50M5395 925v13M5395 957v13M5395 973v13M5395 989v13M5395 990v310M5395 1005v13M5405 850v10M5405 890v10M5405 910v10M5405 930v10M5405 950v20M5405 990v20M5405 1030v270M6245 910v20M6245 940v10M6245 990v10M6245 1010v160M6245 1180v140M6255 900v10M6255 940v10M6255 1010v40M6255 1070v20M6255 1100v220M6265 930v10M6265 960v10M6265 990v10M6265 1010v90M6265 1120v200M6275 780v10M6275 804v13M6275 818v13M6275 848v13M6275 878v13M6275 894v13M6275 950v20M6275 984v13M6275 990v10M6275 1010v40M6275 1014v13M6275 1060v70M6275 1140v180M6285 688v13M6285 714v13M6285 990v40M6285 1070v250M6295 760v10M6295 950v10M6295 1070v10M6295 1090v100M6295 1220v100M6305 960v30M6305 1010v310M6315 910v10M6315 950v30M6315 990v50M6315 1050v270"/>
<path stroke="#c8660f" d="M5415 920v10M5415 950v20M5415 1030v10M5415 1050v20M5415 1080v260M5425 960v40M5425 1010v80M5425 1100v10M5425 1120v220M5435 779v13M5435 850v30M5435 980v20M5435 1020v30M5435 1060v280M5445 890v10M5445 1000v40M5445 1050v20M5445 1090v20M5445 1120v30M5445 1160v180M5455 1000v20M5455 1100v10M5455 1120v60M5455 1190v60M5455 1260v80M5465 990v30M5465 1030v20M5465 1100v10M5465 1120v10M5465 1140v70M5465 1220v20M5465 1250v90M5475 920v10M5475 950v20M5475 1030v20M5475 1060v280M5485 930v20M5485 960v20M5485 990v20M5485 1040v10M5485 1120v20M5485 1150v190M5495 436v13M5495 900v10M5495 1010v20M5495 1070v270M5505 1010v330M5515 960v10M5515 1040v300M5525 930v10M5525 970v20M5525 1020v30M5525 1060v40M5525 1120v220M5535 880v10M5535 910v10M5535 960v40M5535 1010v330M5545 930v20M5545 1070v270M6325 779v13M6325 980v10M6325 1010v20M6325 1060v30M6325 1100v10M6325 1120v120M6325 1250v10M6325 1270v70M6335 980v10M6335 1060v30M6335 1100v40M6335 1160v40M6335 1220v120M6345 779v13M6345 1010v10M6345 1030v80M6345 1180v160M6355 980v10M6355 1060v10M6355 1100v120M6355 1230v110M6365 1000v20M6365 1080v30M6365 1130v60M6365 1200v140M6375 980v20M6375 1020v20M6375 1050v50M6375 1110v230M6385 920v10M6385 1020v110M6385 1140v200M6395 810v30M6395 1030v30M6395 1090v10M6395 1110v40M6395 1170v10M6395 1190v150M6405 1040v10M6405 1170v30M6405 1250v90"/>
</g>
<line x1="407.5" y1="13.16" x2="407.5" y2="161.30" stroke="#8a8a8a" stroke-width="1"/>
<line x1="404.0" y1="161.30" x2="407.5" y2="161.30" stroke="#777" stroke-width="1"/>
<line x1="404.0" y1="144.84" x2="407.5" y2="144.84" stroke="#777" stroke-width="1"/>
<line x1="404.0" y1="128.38" x2="407.5" y2="128.38" stroke="#777" stroke-width="1"/>
<line x1="404.0" y1="111.92" x2="407.5" y2="111.92" stroke="#777" stroke-width="1"/>
<line x1="404.0" y1="95.46" x2="407.5" y2="95.46" stroke="#777" stroke-width="1"/>
<line x1="404.0" y1="79.00" x2="407.5" y2="79.00" stroke="#777" stroke-width="1"/>
<line x1="404.0" y1="62.54" x2="407.5" y2="62.54" stroke="#777" stroke-width="1"/>
<line x1="404.0" y1="46.08" x2="407.5" y2="46.08" stroke="#777" stroke-width="1"/>
<line x1="404.0" y1="29.62" x2="407.5" y2="29.62" stroke="#777" stroke-width="1"/>
<line x1="404.0" y1="13.16" x2="407.5" y2="13.16" stroke="#777" stroke-width="1"/>
<line x1="407.5" y1="40.60" x2="685.0" y2="40.60" stroke="#e8c2c6" stroke-width="1.1"/>
<line x1="416.90000000000003" y1="167.2" x2="675.1" y2="167.2" stroke="#8c8c8c" stroke-width="1.0"/>
<line x1="417.3" y1="167.2" x2="417.3" y2="170.1" stroke="#666" stroke-width="0.8"/>
<line x1="439.5" y1="167.2" x2="439.5" y2="170.1" stroke="#666" stroke-width="0.8"/>
<line x1="461.6" y1="167.2" x2="461.6" y2="170.1" stroke="#666" stroke-width="0.8"/>
<line x1="479.5" y1="167.2" x2="479.5" y2="170.1" stroke="#666" stroke-width="0.8"/>
<line x1="496.4" y1="167.2" x2="496.4" y2="170.1" stroke="#666" stroke-width="0.8"/>
<line x1="512.5" y1="167.2" x2="512.5" y2="170.1" stroke="#666" stroke-width="0.8"/>
<line x1="527.5" y1="167.2" x2="527.5" y2="170.1" stroke="#666" stroke-width="0.8"/>
<line x1="541.7" y1="167.2" x2="541.7" y2="170.1" stroke="#666" stroke-width="0.8"/>
<line x1="554.8" y1="167.2" x2="554.8" y2="170.1" stroke="#666" stroke-width="0.8"/>
<line x1="567.5" y1="167.2" x2="567.5" y2="170.1" stroke="#666" stroke-width="0.8"/>
<line x1="579.6" y1="167.2" x2="579.6" y2="170.1" stroke="#666" stroke-width="0.8"/>
<line x1="591.5" y1="167.2" x2="591.5" y2="170.1" stroke="#666" stroke-width="0.8"/>
<line x1="605.5" y1="167.2" x2="605.5" y2="170.1" stroke="#666" stroke-width="0.8"/>
<line x1="615.4" y1="167.2" x2="615.4" y2="170.1" stroke="#666" stroke-width="0.8"/>
<line x1="625.4" y1="167.2" x2="625.4" y2="170.1" stroke="#666" stroke-width="0.8"/>
<line x1="632.7" y1="167.2" x2="632.7" y2="170.1" stroke="#666" stroke-width="0.8"/>
<line x1="640.6" y1="167.2" x2="640.6" y2="170.1" stroke="#666" stroke-width="0.8"/>
<line x1="648.2" y1="167.2" x2="648.2" y2="170.1" stroke="#666" stroke-width="0.8"/>
<line x1="654.6" y1="167.2" x2="654.6" y2="170.1" stroke="#666" stroke-width="0.8"/>
<line x1="660.5" y1="167.2" x2="660.5" y2="170.1" stroke="#666" stroke-width="0.8"/>
<line x1="667.5" y1="167.2" x2="667.5" y2="170.1" stroke="#666" stroke-width="0.8"/>
<line x1="671.6" y1="167.2" x2="671.6" y2="170.1" stroke="#666" stroke-width="0.8"/>
<line x1="674.7" y1="167.2" x2="674.7" y2="170.1" stroke="#666" stroke-width="0.8"/>
<polyline points="471.1,32.9 471.1,31.6 476.4,31.6" fill="none" stroke="#bbb" stroke-width="0.4"/>
<rect x="470.25" y="33.65" width="1.7" height="1.7" fill="#5e4848" transform="rotate(45 471.1 34.5)"/>
<polyline points="545.8,34.3 557.1,35.5" fill="none" stroke="#bbb" stroke-width="0.4"/>
<rect x="556.15" y="36.95" width="1.7" height="1.7" fill="#5e4848" transform="rotate(45 557.0 37.8)"/>
<g style="filter:grayscale(1)"><text x="401.6" y="163.20" class="tk">0</text>
<text x="401.6" y="146.74" class="tk">1</text>
<text x="401.6" y="130.28" class="tk">2</text>
<text x="401.6" y="113.82" class="tk">3</text>
<text x="401.6" y="97.36" class="tk">4</text>
<text x="401.6" y="80.90" class="tk">5</text>
<text x="401.6" y="64.44" class="tk">6</text>
<text x="401.6" y="47.98" class="tk">7</text>
<text x="401.6" y="31.52" class="tk">8</text>
<text x="401.6" y="15.06" class="tk">9</text>
<text transform="translate(429.5,174.5) rotate(-90) scale(0.5)" class="cl">1</text>
<text transform="translate(451.7,174.5) rotate(-90) scale(0.5)" class="cl">2</text>
<text transform="translate(471.7,174.5) rotate(-90) scale(0.5)" class="cl">3</text>
<text transform="translate(489.1,174.5) rotate(-90) scale(0.5)" class="cl">4</text>
<text transform="translate(505.6,174.5) rotate(-90) scale(0.5)" class="cl">5</text>
<text transform="translate(521.1,174.5) rotate(-90) scale(0.5)" class="cl">6</text>
<text transform="translate(535.7,174.5) rotate(-90) scale(0.5)" class="cl">7</text>
<text transform="translate(549.4,174.5) rotate(-90) scale(0.5)" class="cl">8</text>
<text transform="translate(562.2,174.5) rotate(-90) scale(0.5)" class="cl">9</text>
<text transform="translate(574.6,174.5) rotate(-90) scale(0.5)" class="cl">10</text>
<text transform="translate(586.6,174.5) rotate(-90) scale(0.5)" class="cl">11</text>
<text transform="translate(599.6,174.5) rotate(-90) scale(0.5)" class="cl">12</text>
<text transform="translate(611.6,174.5) rotate(-90) scale(0.5)" class="cl">13</text>
<text transform="translate(621.5,174.5) rotate(-90) scale(0.5)" class="cl">14</text>
<text transform="translate(630.1,174.5) rotate(-90) scale(0.5)" class="cl">15</text>
<text transform="translate(637.8,174.5) rotate(-90) scale(0.5)" class="cl">16</text>
<text transform="translate(645.5,174.5) rotate(-90) scale(0.5)" class="cl">17</text>
<text transform="translate(652.5,174.5) rotate(-90) scale(0.5)" class="cl">18</text>
<text transform="translate(658.6,174.5) rotate(-90) scale(0.5)" class="cl">19</text>
<text transform="translate(665.1,174.5) rotate(-90) scale(0.5)" class="cl">20</text>
<text transform="translate(670.6,174.5) rotate(-90) scale(0.5)" class="cl">21</text>
<text transform="translate(674.3,174.5) rotate(-90) scale(0.5)" class="cl">22</text>
<text x="476.1" y="28.9" class="an" text-anchor="middle">TRAF1</text>
<text x="546.0" y="31.9" class="an" text-anchor="middle">SLAMF1</text>
<text x="546.0" y="189.70000000000002" class="ax" text-anchor="middle">Chromosome</text>
<text transform="translate(388.90000000000003,87.2) rotate(-90)" class="ay" text-anchor="middle">-log10 (p)</text>
<text x="361.9" y="7.9" class="pl" style="font-size:11.8px">b.</text></g>
<line x1="40.5" y1="388.2" x2="319.8" y2="388.2" stroke="#e6e6e6" stroke-width="0.8"/>
<rect x="61.9" y="352.9" width="1.0" height="36.1" fill="#e2f0f7"/>
<rect x="50.1" y="352.9" width="11.8" height="36.1" fill="#83bfdd"/>
<rect x="62.9" y="352.9" width="10.9" height="36.1" fill="#83bfdd"/>
<rect x="73.8" y="352.9" width="21.7" height="36.1" fill="#2471a8"/>
<rect x="95.5" y="352.9" width="17.5" height="36.1" fill="#afdf95"/>
<rect x="113.0" y="352.9" width="17.4" height="36.1" fill="#4aad4a"/>
<rect x="130.4" y="352.9" width="16.4" height="36.1" fill="#fb8d8d"/>
<rect x="146.8" y="352.9" width="15.1" height="36.1" fill="#e1292d"/>
<rect x="161.9" y="356.2" width="13.3" height="32.8" fill="#fdb46f"/>
<rect x="175.2" y="350.4" width="14.7" height="38.6" fill="#c8660f"/>
<rect x="193.5" y="354.6" width="1.4" height="34.4" fill="#e2f0f7"/>
<rect x="189.9" y="354.6" width="3.6" height="34.4" fill="#83bfdd"/>
<rect x="194.9" y="354.6" width="7.3" height="34.4" fill="#83bfdd"/>
<rect x="202.2" y="352.9" width="12.7" height="36.1" fill="#2471a8"/>
<rect x="214.9" y="354.6" width="11.9" height="34.4" fill="#afdf95"/>
<rect x="226.8" y="352.9" width="12.1" height="36.1" fill="#4aad4a"/>
<rect x="238.9" y="349.6" width="11.0" height="39.4" fill="#fb8d8d"/>
<rect x="249.9" y="350.4" width="8.4" height="38.6" fill="#e1292d"/>
<rect x="258.3" y="348.7" width="8.2" height="40.3" fill="#fdb46f"/>
<rect x="266.5" y="354.6" width="9.8" height="34.4" fill="#c8660f"/>
<rect x="276.3" y="352.9" width="7.0" height="36.1" fill="#83bfdd"/>
<rect x="283.3" y="350.4" width="7.0" height="38.6" fill="#2471a8"/>
<rect x="290.3" y="351.2" width="5.4" height="37.8" fill="#afdf95"/>
<rect x="295.7" y="352.9" width="5.6" height="36.1" fill="#4aad4a"/>
<rect x="301.3" y="354.6" width="4.7" height="34.4" fill="#fb8d8d"/>
<rect x="306.0" y="350.4" width="4.2" height="38.6" fill="#e1292d"/>
<g transform="scale(0.1)" stroke-width="10">
<path stroke="#83bfdd" d="M505 3150v30M505 3220v10M505 3260v270M515 3074v13M515 3080v10M515 3110v10M515 3130v20M515 3180v20M515 3210v20M515 3240v290M525 3180v20M525 3210v320M535 3100v20M535 3150v110M535 3280v250M545 2938v13M545 2975v13M545 2993v13M545 3011v13M545 3029v13M545 3047v13M545 3065v13M545 3100v10M545 3101v13M545 3155v13M545 3173v13M545 3180v30M545 3191v13M545 3220v30M545 3260v270M545 3281v13M555 3010v10M555 3170v40M555 3250v30M555 3290v20M555 3320v80M555 3410v120M565 2982v13M565 3010v13M565 3024v13M565 3038v13M565 3052v13M565 3066v13M565 3080v13M565 3094v13M565 3150v10M565 3150v13M565 3164v13M565 3192v13M565 3206v13M565 3220v13M565 3234v13M565 3240v100M565 3248v13M565 3276v13M565 3350v10M565 3380v150M575 3200v40M575 3260v10M575 3290v190M575 3490v40M585 2937v13M585 3020v60M585 3210v10M585 3230v80M585 3320v210M595 3060v10M595 3090v20M595 3130v20M595 3160v10M595 3180v40M595 3240v10M595 3290v240M605 3270v50M605 3330v200M635 3020v10M635 3160v30M635 3210v100M635 3320v210M645 3090v10M645 3150v40M645 3200v50M645 3270v80M645 3360v170M655 3090v20M655 3140v40M655 3200v10M655 3230v300M665 2902v13M665 2918v13M665 3130v50M665 3190v30M665 3240v130M665 3380v150M675 2975v13M675 2991v13M675 3007v13M675 3039v13M675 3055v13M675 3071v13M675 3080v10M675 3087v13M675 3103v13M675 3140v40M675 3151v13M675 3167v13M675 3183v13M675 3190v40M675 3199v13M675 3231v13M675 3240v290M675 3247v13M675 3279v13M685 3000v10M685 3110v10M685 3210v80M685 3300v10M685 3320v210M695 3150v10M695 3190v20M695 3230v10M695 3280v50M695 3340v190M705 3090v20M705 3160v10M705 3220v10M705 3270v10M705 3290v10M705 3310v100M705 3420v110M715 3120v10M715 3210v20M715 3260v30M715 3300v40M715 3350v10M715 3370v160M725 2838v13M725 2914v13M725 2934v13M725 2954v13M725 2974v13M725 3014v13M725 3034v13M725 3054v13M725 3094v13M725 3140v10M725 3154v13M725 3174v13M725 3210v20M725 3234v13M725 3254v13M725 3260v10M725 3280v20M725 3294v13M725 3310v20M725 3340v190M735 3080v10M735 3170v20M735 3210v10M735 3230v300M1895 3230v10M1895 3290v260M1905 3060v10M1905 3110v10M1905 3210v20M1905 3240v10M1905 3260v290M1915 3070v10M1915 3130v10M1915 3220v330M1925 2968v13M1925 3090v20M1925 3170v20M1925 3230v10M1925 3250v110M1925 3370v180M1955 2972v13M1955 3010v13M1955 3150v10M1955 3210v20M1955 3240v10M1955 3270v10M1955 3290v260M1965 3040v10M1965 3120v20M1965 3190v10M1965 3220v20M1965 3280v270M1975 3130v10M1975 3250v20M1975 3290v10M1975 3330v10M1975 3370v50M1975 3430v120M1985 3130v20M1985 3170v20M1985 3210v10M1985 3230v10M1985 3250v300M1995 3120v10M1995 3160v10M1995 3190v10M1995 3220v10M1995 3240v30M1995 3280v20M1995 3310v10M1995 3330v220M2005 2938v13M2005 2978v13M2005 3054v13M2005 3066v13M2005 3113v13M2005 3137v13M2005 3161v13M2005 3180v10M2005 3185v13M2005 3197v13M2005 3209v13M2005 3210v20M2005 3233v13M2005 3245v13M2005 3257v13M2005 3260v290M2005 3269v13M2005 3281v13M2005 3293v13M2015 3160v10M2015 3250v50M2015 3320v230M2765 3150v40M2765 3220v40M2765 3290v10M2765 3330v200M2775 2970v10M2775 3100v10M2775 3170v30M2775 3210v100M2775 3320v210M2785 3030v10M2785 3130v20M2785 3170v10M2785 3210v50M2785 3270v20M2785 3300v230M2795 3250v30M2795 3290v10M2795 3360v10M2795 3380v70M2795 3460v60M2805 3010v13M2805 3050v10M2805 3091v13M2805 3107v13M2805 3123v13M2805 3139v13M2805 3155v13M2805 3160v50M2805 3171v13M2805 3187v13M2805 3203v13M2805 3219v13M2805 3235v13M2805 3240v30M2805 3251v13M2805 3267v13M2805 3283v13M2805 3290v240M2815 3120v10M2815 3150v30M2815 3200v330M2825 3100v10M2825 3160v20M2825 3210v10M2825 3230v40M2825 3280v30M2825 3330v30M2825 3370v160"/>
<path stroke="#2471a8" d="M735 3160v30M735 3220v80M735 3310v220M745 3120v40M745 3200v10M745 3240v290M755 3200v10M755 3260v60M755 3330v40M755 3380v30M755 3430v100M765 2960v20M765 3026v13M765 3120v20M765 3150v10M765 3200v10M765 3230v300M775 3170v10M775 3190v30M775 3300v230M785 2982v13M785 3070v20M785 3200v10M785 3270v10M785 3290v240M795 3030v10M795 3110v10M795 3260v10M795 3280v60M795 3350v20M795 3390v140M805 3090v10M805 3120v10M805 3150v10M805 3190v20M805 3220v10M805 3250v30M805 3290v240M815 3140v20M815 3220v60M815 3290v70M815 3370v160M825 3110v20M825 3150v10M825 3170v40M825 3220v310M835 3140v10M835 3160v10M835 3180v30M835 3220v310M845 2902v13M845 2938v13M845 2982v13M845 2994v13M845 3049v13M845 3060v13M845 3071v13M845 3082v13M845 3104v13M845 3115v13M845 3120v30M845 3126v13M845 3148v13M845 3160v30M845 3170v13M845 3192v13M845 3200v40M845 3214v13M845 3225v13M845 3247v13M845 3250v280M845 3258v13M845 3269v13M855 2990v20M855 3130v20M855 3170v10M855 3190v10M855 3210v320M865 3080v10M865 3200v330M875 3130v10M875 3180v10M875 3200v30M875 3260v100M875 3370v160M885 3010v13M885 3080v20M885 3130v10M885 3160v10M885 3200v330M895 3150v30M895 3240v90M895 3350v50M895 3410v120M905 2980v10M905 3040v20M905 3150v10M905 3170v10M905 3210v140M905 3360v170M915 3070v10M915 3130v20M915 3170v10M915 3190v340M925 3060v10M925 3150v40M925 3230v300M935 3070v10M935 3090v10M935 3140v10M935 3160v10M935 3190v50M935 3260v270M945 3160v10M945 3180v10M945 3210v30M945 3250v20M945 3300v30M945 3350v180M955 3100v10M955 3230v20M955 3260v270M2025 3210v10M2025 3230v10M2025 3290v240M2035 3160v20M2035 3190v30M2035 3250v280M2045 3034v13M2045 3062v13M2045 3089v13M2045 3090v10M2045 3103v13M2045 3117v13M2045 3131v13M2045 3145v13M2045 3159v13M2045 3160v10M2045 3180v10M2045 3187v13M2045 3200v10M2045 3220v310M2045 3243v13M2045 3257v13M2045 3271v13M2045 3285v13M2055 3007v13M2055 3180v20M2055 3220v10M2055 3240v10M2055 3260v10M2055 3280v10M2055 3320v210M2065 3200v20M2065 3250v100M2065 3360v170M2075 3100v20M2075 3170v10M2075 3230v10M2075 3250v280M2085 3170v20M2085 3250v20M2085 3280v110M2085 3400v130M2095 3260v20M2095 3300v10M2095 3340v190M2105 2814v13M2105 2834v13M2105 2844v13M2105 3190v10M2105 3260v10M2105 3280v10M2105 3310v60M2105 3380v150M2115 3036v13M2115 3200v30M2115 3250v80M2115 3350v50M2115 3410v50M2115 3480v50M2125 3210v10M2125 3270v40M2125 3320v20M2125 3350v180M2135 3230v10M2135 3270v70M2135 3350v40M2135 3410v120M2145 3250v70M2145 3350v30M2145 3410v120M2835 3130v50M2835 3220v290M2845 3020v10M2845 3100v20M2845 3180v10M2845 3220v30M2845 3260v250M2855 3068v13M2855 3082v13M2855 3096v13M2855 3110v13M2855 3120v10M2855 3124v13M2855 3138v13M2855 3150v30M2855 3152v13M2855 3180v13M2855 3200v310M2855 3222v13M2855 3264v13M2855 3278v13M2855 3292v13M2865 3150v10M2865 3170v30M2865 3210v20M2865 3250v260M2875 3170v20M2875 3200v310M2885 3160v10M2885 3200v80M2885 3290v220M2895 3010v10M2895 3060v20M2895 3130v10M2895 3200v10M2895 3230v10M2895 3270v20M2895 3300v210"/>
<path stroke="#afdf95" d="M955 3090v20M955 3120v30M955 3160v20M955 3190v30M955 3230v300M965 3040v10M965 3130v20M965 3170v30M965 3210v50M965 3270v260M975 3220v40M975 3270v260M985 3100v30M985 3170v360M995 3010v13M995 3100v10M995 3150v20M995 3180v50M995 3250v10M995 3280v250M1005 3070v10M1005 3150v20M1005 3180v10M1005 3200v10M1005 3220v120M1005 3350v180M1015 3100v30M1015 3210v20M1015 3250v30M1015 3300v230M1025 2982v13M1025 3140v10M1025 3160v10M1025 3180v10M1025 3210v10M1025 3240v10M1025 3300v230M1035 3160v10M1035 3180v10M1035 3210v10M1035 3240v60M1035 3310v220M1045 3200v20M1045 3270v10M1045 3290v180M1045 3480v50M1055 3240v10M1055 3270v40M1055 3320v210M1065 3180v40M1065 3230v10M1065 3250v30M1065 3290v50M1065 3350v180M1075 3080v10M1075 3160v30M1075 3220v20M1075 3250v60M1075 3330v20M1075 3360v170M1085 3150v50M1085 3230v30M1085 3270v20M1085 3300v110M1085 3420v110M1095 3150v10M1095 3240v30M1095 3280v30M1095 3320v10M1095 3340v20M1095 3370v160M1105 3160v10M1105 3180v10M1105 3310v10M1105 3360v20M1105 3390v50M1105 3450v30M1105 3490v40M1115 3080v10M1115 3170v20M1115 3250v10M1115 3280v10M1115 3300v10M1115 3330v10M1115 3350v30M1115 3390v140M1125 2874v13M1125 2888v13M1125 2902v13M1125 2915v13M1125 2929v13M1125 3110v20M1125 3210v30M1125 3250v50M1125 3310v220M2145 3200v10M2145 3260v10M2145 3290v60M2145 3370v120M2145 3500v50M2155 3110v20M2155 3250v60M2155 3320v90M2155 3420v130M2165 3160v10M2165 3180v10M2165 3200v10M2165 3220v30M2165 3260v290M2175 3230v70M2175 3320v230M2185 3030v10M2185 3190v20M2185 3220v20M2185 3270v10M2185 3290v50M2185 3350v200M2195 3130v50M2195 3210v20M2195 3250v10M2195 3270v170M2195 3450v100M2205 3180v40M2205 3230v30M2205 3270v280M2215 2980v10M2215 3080v40M2215 3160v10M2215 3180v10M2215 3200v350M2225 3090v10M2225 3190v20M2225 3220v30M2225 3260v290M2235 3210v40M2235 3270v30M2235 3320v40M2235 3370v180M2245 2990v10M2245 3170v10M2245 3210v10M2245 3230v10M2245 3250v20M2245 3300v250M2255 3220v50M2255 3280v10M2255 3300v20M2255 3330v10M2255 3360v10M2255 3390v160M2265 3120v10M2265 3220v10M2265 3250v10M2265 3300v30M2265 3350v40M2265 3410v140M2905 2877v13M2905 3040v10M2905 3070v10M2905 3160v10M2905 3180v20M2905 3210v310M2915 3140v10M2915 3180v20M2915 3260v10M2915 3280v240M2925 3130v10M2925 3160v10M2925 3200v60M2925 3270v250M2935 2997v13M2935 3020v10M2935 3130v10M2935 3210v10M2935 3260v30M2935 3300v50M2935 3370v150M2945 3090v40M2945 3190v40M2945 3250v270M2955 3070v10M2955 3130v10M2955 3180v20M2955 3210v10M2955 3240v10M2955 3260v260"/>
<path stroke="#4aad4a" d="M1135 3200v50M1135 3260v270M1145 3070v10M1145 3200v10M1145 3240v290M1155 3030v13M1155 3190v110M1155 3310v220M1165 3110v50M1165 3220v40M1165 3280v250M1175 3210v10M1175 3300v230M1185 3140v10M1185 3170v40M1185 3220v10M1185 3240v60M1185 3310v10M1185 3330v200M1195 3160v10M1195 3240v10M1195 3260v90M1195 3370v10M1195 3390v140M1205 3240v10M1205 3260v270M1215 3130v10M1215 3220v10M1215 3250v30M1215 3300v230M1225 3250v20M1225 3310v220M1235 3230v80M1235 3320v210M1245 3040v10M1245 3150v10M1245 3190v10M1245 3210v10M1245 3250v30M1245 3290v240M1255 3054v13M1255 3067v13M1255 3070v10M1255 3080v13M1255 3090v10M1255 3119v13M1255 3132v13M1255 3145v13M1255 3158v13M1255 3184v13M1255 3197v13M1255 3210v90M1255 3223v13M1255 3236v13M1255 3249v13M1255 3262v13M1255 3275v13M1255 3330v200M1265 3140v10M1265 3280v30M1265 3320v20M1265 3350v10M1265 3390v140M1275 3120v10M1275 3190v10M1275 3240v10M1275 3260v40M1275 3320v60M1275 3390v140M1285 3120v10M1285 3220v310M1295 3100v10M1295 3140v10M1295 3170v10M1295 3190v20M1295 3220v310M2265 3270v20M2265 3300v20M2265 3330v30M2265 3370v160M2275 3140v20M2275 3170v70M2275 3300v40M2275 3360v170M2285 3130v10M2285 3170v10M2285 3210v10M2285 3240v30M2285 3280v30M2285 3330v200M2295 3080v10M2295 3230v10M2295 3290v100M2295 3410v120M2305 2886v13M2305 2982v13M2305 3190v10M2305 3210v20M2305 3250v80M2305 3340v190M2315 3240v220M2315 3470v60M2325 3040v20M2325 3250v10M2325 3300v10M2325 3340v20M2325 3370v20M2325 3400v10M2325 3430v20M2325 3460v70M2335 3140v10M2335 3220v20M2335 3270v20M2335 3300v10M2335 3320v80M2335 3420v110M2345 2960v20M2345 2997v13M2345 3010v13M2345 3024v13M2345 3038v13M2345 3052v13M2345 3066v13M2345 3090v20M2345 3094v13M2345 3122v13M2345 3136v13M2345 3164v13M2345 3178v13M2345 3192v13M2345 3206v13M2345 3210v30M2345 3234v13M2345 3248v13M2345 3260v130M2345 3276v13M2345 3290v13M2345 3410v120M2355 3180v10M2355 3220v20M2355 3280v250M2365 3220v10M2365 3250v10M2365 3280v70M2365 3370v160M2375 2968v13M2375 3140v30M2375 3270v10M2375 3300v10M2375 3320v80M2375 3420v110M2385 3120v10M2385 3170v10M2385 3190v30M2385 3240v290M2955 3130v10M2955 3150v10M2955 3190v30M2955 3230v300M2965 3050v10M2965 3090v10M2965 3120v20M2965 3160v10M2965 3180v20M2965 3210v320M2975 3040v10M2975 3100v10M2975 3130v30M2975 3170v10M2975 3190v340M2985 3040v20M2985 3170v10M2985 3220v20M2985 3260v270M2995 3000v10M2995 3010v13M2995 3130v10M2995 3170v10M2995 3220v30M2995 3260v270M3005 3090v30M3005 3140v10M3005 3180v90M3005 3280v250"/>
<path stroke="#fb8d8d" d="M1305 3140v30M1305 3180v30M1305 3230v40M1305 3280v250M1315 2990v10M1315 3110v30M1315 3170v20M1315 3200v40M1315 3280v110M1315 3400v130M1325 3020v10M1325 3030v13M1325 3120v20M1325 3180v20M1325 3210v10M1325 3230v300M1335 3080v10M1335 3200v30M1335 3240v30M1335 3290v240M1345 3100v10M1345 3170v10M1345 3190v50M1345 3250v50M1345 3310v50M1345 3370v160M1355 3270v260M1365 3120v10M1365 3250v20M1365 3280v90M1365 3380v150M1375 3160v30M1375 3220v310M1385 3090v10M1385 3140v50M1385 3200v60M1385 3270v10M1385 3300v230M1395 3040v10M1395 3090v40M1395 3170v60M1395 3240v290M1405 3030v13M1405 3060v20M1405 3140v390M1415 3074v13M1415 3120v10M1415 3140v20M1415 3180v20M1415 3220v310M1425 3100v10M1425 3130v20M1425 3220v20M1425 3260v270M1435 3130v20M1435 3170v10M1435 3190v10M1435 3250v20M1435 3290v240M1445 3150v10M1445 3180v20M1445 3240v110M1445 3380v150M1455 3040v20M1455 3230v300M1465 3062v13M1465 3150v20M1465 3190v10M1465 3210v20M1465 3250v20M1465 3280v120M1465 3410v120M2385 3020v20M2385 3080v10M2385 3100v20M2385 3130v20M2385 3170v10M2385 3200v30M2385 3240v260M2395 3090v10M2395 3190v20M2395 3220v10M2395 3240v10M2395 3260v240M2405 3070v10M2405 3160v20M2405 3190v80M2405 3280v220M2415 3110v20M2415 3140v10M2415 3160v20M2415 3190v30M2415 3260v240M2425 3010v10M2425 3062v13M2425 3160v340M2435 3100v30M2435 3190v310M2445 3090v40M2445 3140v360M2455 3060v10M2455 3080v20M2455 3110v10M2455 3140v10M2455 3160v50M2455 3220v280M2465 2968v13M2465 3100v10M2465 3120v10M2465 3180v20M2465 3230v60M2465 3300v200M2475 3050v20M2475 3100v20M2475 3140v10M2475 3180v30M2475 3220v280M2485 3010v10M2485 3190v20M2485 3220v280M2495 3050v40M2495 3140v30M2495 3200v120M2495 3330v170M3015 2980v20M3015 3140v10M3015 3170v20M3015 3220v40M3015 3270v80M3015 3360v190M3025 3070v10M3025 3090v10M3025 3210v20M3025 3300v10M3025 3320v10M3025 3340v10M3025 3360v70M3025 3450v100M3035 3220v20M3035 3250v10M3035 3290v10M3035 3310v240M3045 3220v10M3045 3270v280M3055 3100v10M3055 3140v30M3055 3260v20M3055 3310v60M3055 3380v170"/>
<path stroke="#e1292d" d="M1465 3210v70M1465 3290v30M1465 3330v200M1475 3020v10M1475 3100v10M1475 3140v20M1475 3170v10M1475 3210v30M1475 3250v280M1485 2668v13M1485 2692v13M1485 2730v13M1485 2748v13M1485 2817v13M1485 2888v13M1485 2904v13M1485 2938v13M1485 2971v13M1485 3040v10M1485 3054v13M1485 3066v13M1485 3078v13M1485 3090v13M1485 3102v13M1485 3137v13M1485 3140v10M1485 3149v13M1485 3160v10M1485 3173v13M1485 3180v10M1485 3185v13M1485 3197v13M1485 3200v330M1485 3209v13M1485 3233v13M1485 3245v13M1485 3257v13M1485 3281v13M1495 3150v10M1495 3180v10M1495 3200v330M1505 3070v10M1505 3170v20M1505 3220v10M1505 3240v30M1505 3280v30M1505 3320v210M1515 3180v20M1515 3260v30M1515 3300v20M1515 3330v20M1515 3360v10M1515 3380v30M1515 3420v110M1525 3064v13M1525 3120v10M1525 3150v30M1525 3200v330M1535 3080v10M1535 3130v10M1535 3170v20M1535 3200v50M1535 3260v270M1545 3100v20M1545 3130v10M1545 3150v10M1545 3250v280M1555 3210v10M1555 3250v60M1555 3320v60M1555 3390v140M1565 3020v10M1565 3160v10M1565 3200v40M1565 3250v280M1575 2978v13M1575 3080v10M1575 3084v13M1575 3110v13M1575 3120v30M1575 3123v13M1575 3136v13M1575 3149v13M1575 3160v20M1575 3175v13M1575 3188v13M1575 3190v20M1575 3201v13M1575 3240v13M1575 3240v290M1575 3253v13M1575 3292v13M1585 3100v10M1585 3120v10M1585 3170v10M1585 3210v320M1595 3220v130M1595 3360v170M1605 3110v10M1605 3130v10M1605 3160v40M1605 3220v10M1605 3250v60M1605 3320v210M1615 2968v13M1615 2990v13M1615 3008v13M1615 3010v10M1615 3026v13M1615 3044v13M1615 3070v10M1615 3080v13M1615 3116v13M1615 3160v40M1615 3170v13M1615 3188v13M1615 3206v13M1615 3220v10M1615 3242v13M1615 3260v13M1615 3270v260M1615 3278v13M2495 3050v20M2495 3120v20M2495 3160v10M2495 3180v10M2495 3220v290M2505 3016v13M2505 3070v10M2505 3130v20M2505 3210v50M2505 3270v40M2505 3320v190M2515 3160v30M2515 3230v50M2515 3290v220M2525 3130v30M2525 3190v40M2525 3240v270M2535 3110v10M2535 3150v30M2535 3190v10M2535 3210v30M2535 3250v260M2545 3210v10M2545 3260v30M2545 3300v10M2545 3330v40M2545 3400v110M2555 2802v13M2555 3026v13M2555 3038v13M2555 3062v13M2555 3070v10M2555 3085v13M2555 3097v13M2555 3121v13M2555 3133v13M2555 3157v13M2555 3169v13M2555 3181v13M2555 3190v10M2555 3193v13M2555 3205v13M2555 3210v130M2555 3217v13M2555 3229v13M2555 3241v13M2555 3265v13M2555 3289v13M2555 3350v160M2565 3140v20M2565 3170v10M2565 3200v20M2565 3230v280M2575 3020v10M2575 3040v30M2575 3120v390M3065 3060v10M3065 3080v20M3065 3098v13M3065 3110v13M3065 3124v13M3065 3137v13M3065 3150v13M3065 3150v10M3065 3163v13M3065 3190v20M3065 3202v13M3065 3215v13M3065 3220v290M3065 3228v13M3065 3241v13M3065 3267v13M3065 3280v13M3075 3070v10M3075 3110v400M3085 3050v10M3085 3100v60M3085 3170v340M3095 3090v30M3095 3150v10M3095 3180v10M3095 3210v160M3095 3390v120"/>
<path stroke="#fdb46f" d="M1615 3190v10M1615 3220v120M1615 3350v220M1625 3140v20M1625 3230v30M1625 3280v30M1625 3350v40M1625 3420v10M1625 3440v30M1625 3480v90M1635 3050v10M1635 3190v10M1635 3280v70M1635 3370v140M1635 3520v50M1645 3130v10M1645 3170v10M1645 3190v10M1645 3240v70M1645 3320v250M1655 3160v10M1655 3190v10M1655 3210v60M1655 3280v290M1665 3140v50M1665 3220v30M1665 3260v10M1665 3320v40M1665 3370v20M1665 3400v110M1665 3520v50M1675 3200v10M1675 3340v30M1675 3390v70M1675 3470v100M1685 3250v10M1685 3290v20M1685 3320v10M1685 3360v20M1685 3390v50M1685 3450v50M1685 3510v60M1695 3030v13M1695 3240v10M1695 3290v10M1695 3400v30M1695 3460v50M1695 3520v50M1705 3210v20M1705 3240v20M1705 3280v20M1705 3310v90M1705 3410v160M1715 3040v10M1715 3062v13M1715 3080v20M1715 3140v10M1715 3170v20M1715 3210v60M1715 3280v290M1725 3130v10M1725 3170v30M1725 3240v50M1725 3300v40M1725 3350v40M1725 3400v10M1725 3430v140M1735 3260v10M1735 3290v20M1735 3340v70M1735 3420v10M1735 3440v130M1745 3090v10M1745 3130v20M1745 3160v10M1745 3180v10M1745 3240v50M1745 3320v30M1745 3370v200M2585 2920v10M2585 3030v10M2585 3120v20M2585 3180v310M2595 3100v20M2595 3170v50M2595 3230v260M2605 3130v20M2605 3160v90M2605 3260v30M2605 3300v190M2615 3120v20M2615 3210v10M2615 3240v250M2625 2867v13M2625 2954v13M2625 3002v13M2625 3018v13M2625 3050v13M2625 3114v13M2625 3130v13M2625 3130v10M2625 3146v13M2625 3160v330M2625 3162v13M2625 3210v13M2625 3258v13M2625 3290v13M2635 3070v20M2635 3150v10M2635 3170v70M2635 3250v10M2635 3270v220M2645 3150v30M2645 3190v10M2645 3230v50M2645 3290v200M2655 3090v10M2655 3120v10M2655 3140v20M2655 3200v30M2655 3240v10M2655 3270v220M2665 2980v10M2665 3050v50M2665 3110v60M2665 3180v310"/>
<path stroke="#c8660f" d="M1755 3210v40M1755 3260v20M1755 3290v60M1755 3360v150M1765 2836v13M1765 2910v13M1765 2925v13M1765 2990v13M1765 3001v13M1765 3023v13M1765 3034v13M1765 3045v13M1765 3056v13M1765 3078v13M1765 3089v13M1765 3100v13M1765 3110v20M1765 3111v13M1765 3122v13M1765 3133v13M1765 3144v13M1765 3155v13M1765 3166v13M1765 3180v40M1765 3188v13M1765 3199v13M1765 3210v13M1765 3221v13M1765 3232v13M1765 3243v13M1765 3250v30M1765 3254v13M1765 3265v13M1765 3276v13M1765 3290v40M1765 3340v170M1775 3080v10M1775 3190v20M1775 3230v20M1775 3260v250M1785 2990v10M1785 3150v10M1785 3190v20M1785 3230v280M1795 3060v10M1795 3110v10M1795 3130v30M1795 3180v50M1795 3240v270M1805 3150v10M1805 3220v20M1805 3260v50M1805 3360v110M1805 3480v30M1815 2940v30M1815 3170v20M1815 3200v30M1815 3240v270M1825 3020v10M1825 3070v30M1825 3110v10M1825 3130v10M1825 3150v40M1825 3210v20M1825 3240v80M1825 3330v180M1835 3020v10M1835 3080v20M1835 3120v40M1835 3180v20M1835 3210v20M1835 3260v250M1845 3076v13M1845 3090v13M1845 3103v13M1845 3120v10M1845 3145v13M1845 3159v13M1845 3160v10M1845 3173v13M1845 3180v50M1845 3187v13M1845 3215v13M1845 3229v13M1845 3243v13M1845 3250v100M1845 3271v13M1845 3360v150M1855 3000v10M1855 3040v10M1855 3054v13M1855 3200v110M1855 3320v190M1865 3140v30M1865 3220v10M1865 3240v10M1865 3270v240M1875 2970v10M1875 3180v10M1875 3220v10M1875 3260v110M1875 3390v120M1885 3060v10M1885 3180v20M1885 3210v10M1885 3270v100M1885 3380v130M1895 3110v10M1895 3200v10M1895 3220v60M1895 3310v200M2665 3140v20M2665 3170v10M2665 3220v130M2665 3360v190M2675 3140v10M2675 3170v90M2675 3280v270M2685 3230v320M2695 2918v13M2695 2954v13M2695 3150v10M2695 3170v10M2695 3200v50M2695 3270v280M2705 3150v20M2705 3210v340M2715 3150v10M2715 3230v320M2725 3180v10M2725 3210v30M2725 3270v280M2735 2978v13M2735 2996v13M2735 3014v13M2735 3032v13M2735 3050v13M2735 3068v13M2735 3086v13M2735 3090v20M2735 3104v13M2735 3122v13M2735 3140v13M2735 3176v13M2735 3194v13M2735 3210v20M2735 3212v13M2735 3230v13M2735 3240v20M2735 3248v13M2735 3270v80M2735 3370v180M2745 3190v10M2745 3230v320M2755 2972v13M2755 3060v10M2755 3220v20M2755 3250v300"/>
</g>
<line x1="40.5" y1="237.87" x2="40.5" y2="387.90" stroke="#8a8a8a" stroke-width="1"/>
<line x1="37.0" y1="387.90" x2="40.5" y2="387.90" stroke="#777" stroke-width="1"/>
<line x1="37.0" y1="371.23" x2="40.5" y2="371.23" stroke="#777" stroke-width="1"/>
<line x1="37.0" y1="354.56" x2="40.5" y2="354.56" stroke="#777" stroke-width="1"/>
<line x1="37.0" y1="337.89" x2="40.5" y2="337.89" stroke="#777" stroke-width="1"/>
<line x1="37.0" y1="321.22" x2="40.5" y2="321.22" stroke="#777" stroke-width="1"/>
<line x1="37.0" y1="304.55" x2="40.5" y2="304.55" stroke="#777" stroke-width="1"/>
<line x1="37.0" y1="287.88" x2="40.5" y2="287.88" stroke="#777" stroke-width="1"/>
<line x1="37.0" y1="271.21" x2="40.5" y2="271.21" stroke="#777" stroke-width="1"/>
<line x1="37.0" y1="254.54" x2="40.5" y2="254.54" stroke="#777" stroke-width="1"/>
<line x1="37.0" y1="237.87" x2="40.5" y2="237.87" stroke="#777" stroke-width="1"/>
<line x1="40.3" y1="266.50" x2="319.8" y2="266.50" stroke="#d49396" stroke-width="1.1"/>
<line x1="50.0" y1="394.1" x2="310.09999999999997" y2="394.1" stroke="#d4d4d4" stroke-width="1.5"/>
<line x1="50.4" y1="394.1" x2="50.4" y2="397.0" stroke="#666" stroke-width="0.8"/>
<line x1="73.2" y1="394.1" x2="73.2" y2="397.0" stroke="#666" stroke-width="0.8"/>
<line x1="94.8" y1="394.1" x2="94.8" y2="397.0" stroke="#666" stroke-width="0.8"/>
<line x1="112.3" y1="394.1" x2="112.3" y2="397.0" stroke="#666" stroke-width="0.8"/>
<line x1="129.6" y1="394.1" x2="129.6" y2="397.0" stroke="#666" stroke-width="0.8"/>
<line x1="146.3" y1="394.1" x2="146.3" y2="397.0" stroke="#666" stroke-width="0.8"/>
<line x1="161.5" y1="394.1" x2="161.5" y2="397.0" stroke="#666" stroke-width="0.8"/>
<line x1="175.5" y1="394.1" x2="175.5" y2="397.0" stroke="#666" stroke-width="0.8"/>
<line x1="188.9" y1="394.1" x2="188.9" y2="397.0" stroke="#666" stroke-width="0.8"/>
<line x1="201.3" y1="394.1" x2="201.3" y2="397.0" stroke="#666" stroke-width="0.8"/>
<line x1="213.5" y1="394.1" x2="213.5" y2="397.0" stroke="#666" stroke-width="0.8"/>
<line x1="225.8" y1="394.1" x2="225.8" y2="397.0" stroke="#666" stroke-width="0.8"/>
<line x1="239.5" y1="394.1" x2="239.5" y2="397.0" stroke="#666" stroke-width="0.8"/>
<line x1="250.3" y1="394.1" x2="250.3" y2="397.0" stroke="#666" stroke-width="0.8"/>
<line x1="259.4" y1="394.1" x2="259.4" y2="397.0" stroke="#666" stroke-width="0.8"/>
<line x1="267.4" y1="394.1" x2="267.4" y2="397.0" stroke="#666" stroke-width="0.8"/>
<line x1="275.3" y1="394.1" x2="275.3" y2="397.0" stroke="#666" stroke-width="0.8"/>
<line x1="282.5" y1="394.1" x2="282.5" y2="397.0" stroke="#666" stroke-width="0.8"/>
<line x1="289.5" y1="394.1" x2="289.5" y2="397.0" stroke="#666" stroke-width="0.8"/>
<line x1="295.0" y1="394.1" x2="295.0" y2="397.0" stroke="#666" stroke-width="0.8"/>
<line x1="301.4" y1="394.1" x2="301.4" y2="397.0" stroke="#666" stroke-width="0.8"/>
<line x1="306.4" y1="394.1" x2="306.4" y2="397.0" stroke="#666" stroke-width="0.8"/>
<line x1="309.7" y1="394.1" x2="309.7" y2="397.0" stroke="#666" stroke-width="0.8"/>
<polyline points="148.9,263.5 156.6,263.3" fill="none" stroke="#bbb" stroke-width="0.4"/>
<rect x="147.90" y="264.90" width="2.0" height="2.0" fill="#5e4848" transform="rotate(45 148.9 265.9)"/>
<g style="filter:grayscale(1)"><text x="34.6" y="389.80" class="tk">0</text>
<text x="34.6" y="373.13" class="tk">1</text>
<text x="34.6" y="356.46" class="tk">2</text>
<text x="34.6" y="339.79" class="tk">3</text>
<text x="34.6" y="323.12" class="tk">4</text>
<text x="34.6" y="306.45" class="tk">5</text>
<text x="34.6" y="289.78" class="tk">6</text>
<text x="34.6" y="273.11" class="tk">7</text>
<text x="34.6" y="256.44" class="tk">8</text>
<text x="34.6" y="239.77" class="tk">9</text>
<text transform="translate(62.9,401.4) rotate(-90) scale(0.5)" class="cl">1</text>
<text transform="translate(85.1,401.4) rotate(-90) scale(0.5)" class="cl">2</text>
<text transform="translate(104.6,401.4) rotate(-90) scale(0.5)" class="cl">3</text>
<text transform="translate(122.0,401.4) rotate(-90) scale(0.5)" class="cl">4</text>
<text transform="translate(139.0,401.4) rotate(-90) scale(0.5)" class="cl">5</text>
<text transform="translate(155.0,401.4) rotate(-90) scale(0.5)" class="cl">6</text>
<text transform="translate(169.6,401.4) rotate(-90) scale(0.5)" class="cl">7</text>
<text transform="translate(183.3,401.4) rotate(-90) scale(0.5)" class="cl">8</text>
<text transform="translate(196.2,401.4) rotate(-90) scale(0.5)" class="cl">9</text>
<text transform="translate(208.5,401.4) rotate(-90) scale(0.5)" class="cl">10</text>
<text transform="translate(220.8,401.4) rotate(-90) scale(0.5)" class="cl">11</text>
<text transform="translate(233.8,401.4) rotate(-90) scale(0.5)" class="cl">12</text>
<text transform="translate(246.0,401.4) rotate(-90) scale(0.5)" class="cl">13</text>
<text transform="translate(255.9,401.4) rotate(-90) scale(0.5)" class="cl">14</text>
<text transform="translate(264.5,401.4) rotate(-90) scale(0.5)" class="cl">15</text>
<text transform="translate(272.5,401.4) rotate(-90) scale(0.5)" class="cl">16</text>
<text transform="translate(280.0,401.4) rotate(-90) scale(0.5)" class="cl">17</text>
<text transform="translate(287.1,401.4) rotate(-90) scale(0.5)" class="cl">18</text>
<text transform="translate(293.4,401.4) rotate(-90) scale(0.5)" class="cl">19</text>
<text transform="translate(299.3,401.4) rotate(-90) scale(0.5)" class="cl">20</text>
<text transform="translate(305.0,401.4) rotate(-90) scale(0.5)" class="cl">21</text>
<text transform="translate(309.1,401.4) rotate(-90) scale(0.5)" class="cl">22</text>
<text x="156.7" y="260.5" class="an" text-anchor="middle">MIR? (305)</text>
<text x="180.5" y="416.4" class="ax" text-anchor="middle">Chromosome</text>
<text transform="translate(21.700000000000003,312.7) rotate(-90)" class="ay" text-anchor="middle">-log10 (p)</text>
<text x="-1.0" y="247.9" class="pl" style="font-size:12.4px">c.</text></g>
</svg></body></html>
